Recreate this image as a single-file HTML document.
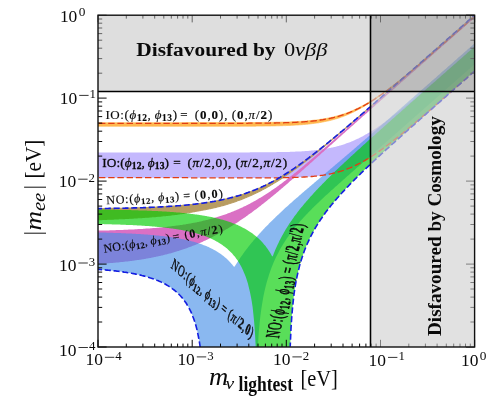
<!DOCTYPE html>
<html><head><meta charset="utf-8"><title>|m_ee| vs lightest neutrino mass</title>
<style>
html,body{margin:0;padding:0;background:#fff;}
body{width:498px;height:401px;overflow:hidden;position:relative;font-family:"Liberation Serif",serif;}
svg{will-change:transform;}
svg text{font-family:"Liberation Serif",serif;fill:#0a0a0a;}
.i{font-style:italic}.b{font-weight:bold}
</style></head><body>
<svg width="498" height="401" viewBox="0 0 498 401" style="position:absolute;left:0;top:0">
<defs><clipPath id="c"><rect x="98.0" y="15.2" width="376.6" height="331.8"/></clipPath></defs>
<rect width="498" height="401" fill="#fff"/>
<g clip-path="url(#c)">
<path d="M98.0,152.4L98.8,152.4L99.6,152.4L100.4,152.4L101.1,152.4L101.9,152.4L102.7,152.4L103.5,152.4L104.3,152.4L105.1,152.4L105.8,152.4L106.6,152.4L107.4,152.4L108.2,152.4L109.0,152.4L109.8,152.4L110.6,152.4L111.3,152.4L112.1,152.4L112.9,152.4L113.7,152.4L114.5,152.4L115.3,152.4L116.0,152.4L116.8,152.4L117.6,152.4L118.4,152.4L119.2,152.4L120.0,152.4L120.8,152.4L121.5,152.4L122.3,152.4L123.1,152.4L123.9,152.4L124.7,152.4L125.5,152.4L126.2,152.4L127.0,152.4L127.8,152.4L128.6,152.4L129.4,152.4L130.2,152.4L131.0,152.4L131.7,152.4L132.5,152.4L133.3,152.4L134.1,152.4L134.9,152.4L135.7,152.4L136.4,152.4L137.2,152.4L138.0,152.4L138.8,152.4L139.6,152.4L140.4,152.4L141.2,152.4L141.9,152.4L142.7,152.4L143.5,152.4L144.3,152.4L145.1,152.4L145.9,152.4L146.6,152.4L147.4,152.4L148.2,152.4L149.0,152.4L149.8,152.4L150.6,152.4L151.4,152.4L152.1,152.4L152.9,152.4L153.7,152.4L154.5,152.4L155.3,152.4L156.1,152.4L156.8,152.4L157.6,152.4L158.4,152.4L159.2,152.4L160.0,152.4L160.8,152.4L161.6,152.4L162.3,152.4L163.1,152.4L163.9,152.4L164.7,152.4L165.5,152.4L166.3,152.4L167.0,152.4L167.8,152.4L168.6,152.4L169.4,152.4L170.2,152.4L171.0,152.4L171.8,152.4L172.5,152.4L173.3,152.4L174.1,152.4L174.9,152.4L175.7,152.4L176.5,152.4L177.2,152.4L178.0,152.4L178.8,152.4L179.6,152.4L180.4,152.4L181.2,152.4L182.0,152.4L182.7,152.4L183.5,152.4L184.3,152.4L185.1,152.4L185.9,152.4L186.7,152.4L187.4,152.4L188.2,152.4L189.0,152.4L189.8,152.4L190.6,152.4L191.4,152.4L192.2,152.4L192.9,152.4L193.7,152.4L194.5,152.4L195.3,152.4L196.1,152.4L196.9,152.4L197.6,152.4L198.4,152.4L199.2,152.4L200.0,152.4L200.8,152.4L201.6,152.4L202.3,152.4L203.1,152.4L203.9,152.4L204.7,152.4L205.5,152.4L206.3,152.4L207.1,152.4L207.8,152.4L208.6,152.4L209.4,152.4L210.2,152.4L211.0,152.4L211.8,152.4L212.5,152.4L213.3,152.4L214.1,152.4L214.9,152.4L215.7,152.4L216.5,152.4L217.3,152.4L218.0,152.4L218.8,152.4L219.6,152.4L220.4,152.4L221.2,152.4L222.0,152.4L222.7,152.4L223.5,152.4L224.3,152.4L225.1,152.4L225.9,152.4L226.7,152.4L227.5,152.4L228.2,152.4L229.0,152.4L229.8,152.4L230.6,152.4L231.4,152.4L232.2,152.4L232.9,152.4L233.7,152.4L234.5,152.4L235.3,152.4L236.1,152.4L236.9,152.4L237.7,152.4L238.4,152.4L239.2,152.4L240.0,152.4L240.8,152.4L241.6,152.4L242.4,152.4L243.1,152.4L243.9,152.4L244.7,152.4L245.5,152.4L246.3,152.4L247.1,152.4L247.9,152.4L248.6,152.4L249.4,152.4L250.2,152.3L251.0,152.3L251.8,152.3L252.6,152.3L253.3,152.3L254.1,152.3L254.9,152.3L255.7,152.3L256.5,152.3L257.3,152.3L258.1,152.3L258.8,152.3L259.6,152.3L260.4,152.3L261.2,152.3L262.0,152.3L262.8,152.3L263.5,152.3L264.3,152.3L265.1,152.3L265.9,152.3L266.7,152.3L267.5,152.3L268.3,152.2L269.0,152.2L269.8,152.2L270.6,152.2L271.4,152.2L272.2,152.2L273.0,152.2L273.7,152.2L274.5,152.2L275.3,152.2L276.1,152.2L276.9,152.1L277.7,152.1L278.5,152.1L279.2,152.1L280.0,152.1L280.8,152.1L281.6,152.1L282.4,152.0L283.2,152.0L283.9,152.0L284.7,152.0L285.5,152.0L286.3,152.0L287.1,151.9L287.9,151.9L288.7,151.9L289.4,151.9L290.2,151.8L291.0,151.8L291.8,151.8L292.6,151.8L293.4,151.7L294.1,151.7L294.9,151.7L295.7,151.6L296.5,151.6L297.3,151.6L298.1,151.5L298.9,151.5L299.6,151.5L300.4,151.4L301.2,151.4L302.0,151.3L302.8,151.3L303.6,151.2L304.3,151.2L305.1,151.1L305.9,151.1L306.7,151.0L307.5,151.0L308.3,150.9L309.1,150.8L309.8,150.8L310.6,150.7L311.4,150.6L312.2,150.6L313.0,150.5L313.8,150.4L314.5,150.3L315.3,150.2L316.1,150.2L316.9,150.1L317.7,150.0L318.5,149.9L319.3,149.8L320.0,149.7L320.8,149.6L321.6,149.4L322.4,149.3L323.2,149.2L324.0,149.1L324.7,149.0L325.5,148.8L326.3,148.7L327.1,148.6L327.9,148.4L328.7,148.3L329.5,148.1L330.2,147.9L331.0,147.8L331.8,147.6L332.6,147.4L333.4,147.3L334.2,147.1L334.9,146.9L335.7,146.7L336.5,146.5L337.3,146.3L338.1,146.1L338.9,145.9L339.7,145.6L340.4,145.4L341.2,145.2L342.0,144.9L342.8,144.7L343.6,144.4L344.4,144.2L345.1,143.9L345.9,143.6L346.7,143.3L347.5,143.1L348.3,142.8L349.1,142.5L349.9,142.2L350.6,141.9L351.4,141.5L352.2,141.2L353.0,140.9L353.8,140.5L354.6,140.2L355.3,139.8L356.1,139.5L356.9,139.1L357.7,138.7L358.5,138.4L359.3,138.0L360.1,137.6L360.8,137.2L361.6,136.8L362.4,136.4L363.2,135.9L364.0,135.5L364.8,135.1L365.5,134.6L366.3,134.2L367.1,133.7L367.9,133.3L368.7,132.8L369.5,132.4L370.3,131.9L371.0,131.4L371.8,130.9L372.6,130.4L373.4,129.9L374.2,129.4L375.0,128.9L375.7,128.4L376.5,127.9L377.3,127.4L378.1,126.8L378.9,126.3L379.7,125.8L380.5,125.2L381.2,124.7L382.0,124.1L382.8,123.6L383.6,123.0L384.4,122.5L385.2,121.9L385.9,121.3L386.7,120.7L387.5,120.2L388.3,119.6L389.1,119.0L389.9,118.4L390.6,117.8L391.4,117.2L392.2,116.6L393.0,116.0L393.8,115.4L394.6,114.8L395.4,114.2L396.1,113.6L396.9,113.0L397.7,112.4L398.5,111.7L399.3,111.1L400.1,110.5L400.8,109.9L401.6,109.2L402.4,108.6L403.2,108.0L404.0,107.3L404.8,106.7L405.6,106.1L406.3,105.4L407.1,104.8L407.9,104.1L408.7,103.5L409.5,102.8L410.3,102.2L411.0,101.5L411.8,100.9L412.6,100.2L413.4,99.6L414.2,98.9L415.0,98.3L415.8,97.6L416.5,96.9L417.3,96.3L418.1,95.6L418.9,95.0L419.7,94.3L420.5,93.6L421.2,93.0L422.0,92.3L422.8,91.6L423.6,91.0L424.4,90.3L425.2,89.6L426.0,88.9L426.7,88.3L427.5,87.6L428.3,86.9L429.1,86.2L429.9,85.6L430.7,84.9L431.4,84.2L432.2,83.5L433.0,82.9L433.8,82.2L434.6,81.5L435.4,80.8L436.2,80.2L436.9,79.5L437.7,78.8L438.5,78.1L439.3,77.4L440.1,76.8L440.9,76.1L441.6,75.4L442.4,74.7L443.2,74.0L444.0,73.3L444.8,72.7L445.6,72.0L446.4,71.3L447.1,70.6L447.9,69.9L448.7,69.2L449.5,68.6L450.3,67.9L451.1,67.2L451.8,66.5L452.6,65.8L453.4,65.1L454.2,64.4L455.0,63.8L455.8,63.1L456.6,62.4L457.3,61.7L458.1,61.0L458.9,60.3L459.7,59.6L460.5,58.9L461.3,58.3L462.0,57.6L462.8,56.9L463.6,56.2L464.4,55.5L465.2,54.8L466.0,54.1L466.8,53.4L467.5,52.8L468.3,52.1L469.1,51.4L469.9,50.7L470.7,50.0L471.5,49.3L472.2,48.6L473.0,47.9L473.8,47.2L474.6,46.6L474.6,71.1L473.8,71.8L473.0,72.5L472.2,73.2L471.5,73.9L470.7,74.6L469.9,75.3L469.1,76.0L468.3,76.7L467.5,77.3L466.8,78.0L466.0,78.7L465.2,79.4L464.4,80.1L463.6,80.8L462.8,81.5L462.0,82.2L461.3,82.8L460.5,83.5L459.7,84.2L458.9,84.9L458.1,85.6L457.3,86.3L456.6,87.0L455.8,87.7L455.0,88.4L454.2,89.0L453.4,89.7L452.6,90.4L451.8,91.1L451.1,91.8L450.3,92.5L449.5,93.2L448.7,93.8L447.9,94.5L447.1,95.2L446.4,95.9L445.6,96.6L444.8,97.3L444.0,98.0L443.2,98.6L442.4,99.3L441.6,100.0L440.9,100.7L440.1,101.4L439.3,102.1L438.5,102.7L437.7,103.4L436.9,104.1L436.2,104.8L435.4,105.5L434.6,106.1L433.8,106.8L433.0,107.5L432.2,108.2L431.4,108.9L430.7,109.5L429.9,110.2L429.1,110.9L428.3,111.6L427.5,112.2L426.7,112.9L426.0,113.6L425.2,114.3L424.4,114.9L423.6,115.6L422.8,116.3L422.0,117.0L421.2,117.6L420.5,118.3L419.7,119.0L418.9,119.6L418.1,120.3L417.3,121.0L416.5,121.6L415.8,122.3L415.0,123.0L414.2,123.6L413.4,124.3L412.6,124.9L411.8,125.6L411.0,126.3L410.3,126.9L409.5,127.6L408.7,128.2L407.9,128.9L407.1,129.5L406.3,130.2L405.6,130.8L404.8,131.5L404.0,132.1L403.2,132.8L402.4,133.4L401.6,134.0L400.8,134.7L400.1,135.3L399.3,136.0L398.5,136.6L397.7,137.2L396.9,137.8L396.1,138.5L395.4,139.1L394.6,139.7L393.8,140.3L393.0,141.0L392.2,141.6L391.4,142.2L390.6,142.8L389.9,143.4L389.1,144.0L388.3,144.6L387.5,145.2L386.7,145.8L385.9,146.4L385.2,146.9L384.4,147.5L383.6,148.1L382.8,148.7L382.0,149.3L381.2,149.8L380.5,150.4L379.7,150.9L378.9,151.5L378.1,152.0L377.3,152.6L376.5,153.1L375.7,153.7L375.0,154.2L374.2,154.7L373.4,155.3L372.6,155.8L371.8,156.3L371.0,156.8L370.3,157.3L369.5,157.8L368.7,158.2L367.9,158.7L367.1,159.2L366.3,159.6L365.5,160.1L364.8,160.6L364.0,161.0L363.2,161.4L362.4,161.9L361.6,162.3L360.8,162.7L360.1,163.1L359.3,163.5L358.5,163.9L357.7,164.3L356.9,164.7L356.1,165.1L355.3,165.5L354.6,165.8L353.8,166.2L353.0,166.6L352.2,166.9L351.4,167.3L350.6,167.6L349.9,167.9L349.1,168.2L348.3,168.5L347.5,168.8L346.7,169.1L345.9,169.4L345.1,169.7L344.4,170.0L343.6,170.3L342.8,170.5L342.0,170.8L341.2,171.1L340.4,171.3L339.7,171.5L338.9,171.8L338.1,172.0L337.3,172.2L336.5,172.4L335.7,172.6L334.9,172.8L334.2,173.0L333.4,173.2L332.6,173.4L331.8,173.6L331.0,173.8L330.2,173.9L329.5,174.1L328.7,174.2L327.9,174.4L327.1,174.5L326.3,174.7L325.5,174.8L324.7,174.9L324.0,175.1L323.2,175.2L322.4,175.3L321.6,175.4L320.8,175.5L320.0,175.6L319.3,175.7L318.5,175.8L317.7,175.9L316.9,176.0L316.1,176.1L315.3,176.2L314.5,176.2L313.8,176.3L313.0,176.4L312.2,176.5L311.4,176.5L310.6,176.6L309.8,176.7L309.1,176.7L308.3,176.8L307.5,176.8L306.7,176.9L305.9,176.9L305.1,177.0L304.3,177.0L303.6,177.0L302.8,177.1L302.0,177.1L301.2,177.1L300.4,177.2L299.6,177.2L298.9,177.2L298.1,177.3L297.3,177.3L296.5,177.3L295.7,177.4L294.9,177.4L294.1,177.4L293.4,177.5L292.6,177.5L291.8,177.5L291.0,177.5L290.2,177.6L289.4,177.6L288.7,177.6L287.9,177.6L287.1,177.6L286.3,177.7L285.5,177.7L284.7,177.7L283.9,177.7L283.2,177.7L282.4,177.7L281.6,177.7L280.8,177.8L280.0,177.8L279.2,177.8L278.5,177.8L277.7,177.8L276.9,177.8L276.1,177.8L275.3,177.8L274.5,177.8L273.7,177.8L273.0,177.8L272.2,177.8L271.4,177.8L270.6,177.9L269.8,177.9L269.0,177.9L268.3,177.9L267.5,177.9L266.7,177.9L265.9,177.9L265.1,177.9L264.3,177.9L263.5,177.9L262.8,177.9L262.0,177.9L261.2,177.9L260.4,177.9L259.6,177.9L258.8,177.9L258.1,177.9L257.3,177.9L256.5,177.9L255.7,177.9L254.9,177.9L254.1,177.9L253.3,177.9L252.6,177.9L251.8,177.9L251.0,177.9L250.2,177.9L249.4,177.9L248.6,177.9L247.9,177.9L247.1,177.9L246.3,177.9L245.5,177.9L244.7,177.9L243.9,177.9L243.1,177.9L242.4,177.9L241.6,177.9L240.8,177.9L240.0,177.9L239.2,177.9L238.4,177.9L237.7,177.9L236.9,177.9L236.1,177.9L235.3,177.9L234.5,177.8L233.7,177.8L232.9,177.8L232.2,177.8L231.4,177.8L230.6,177.8L229.8,177.8L229.0,177.8L228.2,177.8L227.5,177.8L226.7,177.8L225.9,177.8L225.1,177.8L224.3,177.8L223.5,177.8L222.7,177.8L222.0,177.8L221.2,177.8L220.4,177.8L219.6,177.8L218.8,177.8L218.0,177.8L217.3,177.8L216.5,177.8L215.7,177.8L214.9,177.8L214.1,177.8L213.3,177.8L212.5,177.8L211.8,177.8L211.0,177.8L210.2,177.8L209.4,177.8L208.6,177.8L207.8,177.8L207.1,177.8L206.3,177.8L205.5,177.8L204.7,177.8L203.9,177.8L203.1,177.8L202.3,177.8L201.6,177.8L200.8,177.8L200.0,177.8L199.2,177.8L198.4,177.8L197.6,177.8L196.9,177.8L196.1,177.8L195.3,177.8L194.5,177.8L193.7,177.8L192.9,177.8L192.2,177.8L191.4,177.8L190.6,177.8L189.8,177.8L189.0,177.8L188.2,177.8L187.4,177.7L186.7,177.7L185.9,177.7L185.1,177.7L184.3,177.7L183.5,177.7L182.7,177.7L182.0,177.7L181.2,177.7L180.4,177.7L179.6,177.7L178.8,177.7L178.0,177.7L177.2,177.7L176.5,177.7L175.7,177.7L174.9,177.7L174.1,177.7L173.3,177.7L172.5,177.7L171.8,177.7L171.0,177.7L170.2,177.7L169.4,177.7L168.6,177.7L167.8,177.7L167.0,177.7L166.3,177.7L165.5,177.7L164.7,177.7L163.9,177.7L163.1,177.7L162.3,177.7L161.6,177.7L160.8,177.7L160.0,177.7L159.2,177.7L158.4,177.7L157.6,177.7L156.8,177.7L156.1,177.7L155.3,177.7L154.5,177.7L153.7,177.7L152.9,177.7L152.1,177.7L151.4,177.7L150.6,177.7L149.8,177.7L149.0,177.7L148.2,177.7L147.4,177.7L146.6,177.7L145.9,177.7L145.1,177.7L144.3,177.7L143.5,177.7L142.7,177.7L141.9,177.7L141.2,177.7L140.4,177.7L139.6,177.7L138.8,177.7L138.0,177.7L137.2,177.7L136.4,177.7L135.7,177.7L134.9,177.7L134.1,177.7L133.3,177.7L132.5,177.7L131.7,177.7L131.0,177.7L130.2,177.7L129.4,177.7L128.6,177.7L127.8,177.7L127.0,177.7L126.2,177.7L125.5,177.7L124.7,177.7L123.9,177.7L123.1,177.7L122.3,177.7L121.5,177.7L120.8,177.7L120.0,177.7L119.2,177.7L118.4,177.7L117.6,177.7L116.8,177.7L116.0,177.7L115.3,177.7L114.5,177.7L113.7,177.7L112.9,177.7L112.1,177.7L111.3,177.7L110.6,177.7L109.8,177.7L109.0,177.7L108.2,177.7L107.4,177.7L106.6,177.7L105.8,177.7L105.1,177.7L104.3,177.7L103.5,177.7L102.7,177.7L101.9,177.7L101.1,177.7L100.4,177.7L99.6,177.7L98.8,177.7L98.0,177.7Z" fill="#c4b8fd"/>
<path d="M98.0,122.7L98.8,122.7L99.6,122.7L100.4,122.7L101.1,122.7L101.9,122.7L102.7,122.7L103.5,122.7L104.3,122.7L105.1,122.7L105.8,122.7L106.6,122.7L107.4,122.7L108.2,122.7L109.0,122.7L109.8,122.7L110.6,122.7L111.3,122.7L112.1,122.7L112.9,122.7L113.7,122.7L114.5,122.7L115.3,122.7L116.0,122.7L116.8,122.7L117.6,122.7L118.4,122.7L119.2,122.7L120.0,122.7L120.8,122.7L121.5,122.7L122.3,122.7L123.1,122.7L123.9,122.7L124.7,122.7L125.5,122.7L126.2,122.7L127.0,122.7L127.8,122.7L128.6,122.7L129.4,122.7L130.2,122.7L131.0,122.7L131.7,122.7L132.5,122.7L133.3,122.7L134.1,122.7L134.9,122.7L135.7,122.7L136.4,122.7L137.2,122.7L138.0,122.7L138.8,122.7L139.6,122.7L140.4,122.7L141.2,122.7L141.9,122.7L142.7,122.7L143.5,122.7L144.3,122.7L145.1,122.7L145.9,122.7L146.6,122.7L147.4,122.7L148.2,122.7L149.0,122.7L149.8,122.7L150.6,122.7L151.4,122.7L152.1,122.7L152.9,122.7L153.7,122.7L154.5,122.7L155.3,122.7L156.1,122.7L156.8,122.7L157.6,122.7L158.4,122.7L159.2,122.7L160.0,122.7L160.8,122.7L161.6,122.7L162.3,122.7L163.1,122.7L163.9,122.7L164.7,122.7L165.5,122.7L166.3,122.7L167.0,122.7L167.8,122.7L168.6,122.7L169.4,122.7L170.2,122.7L171.0,122.7L171.8,122.7L172.5,122.7L173.3,122.7L174.1,122.7L174.9,122.7L175.7,122.7L176.5,122.7L177.2,122.7L178.0,122.7L178.8,122.7L179.6,122.7L180.4,122.7L181.2,122.7L182.0,122.7L182.7,122.7L183.5,122.7L184.3,122.7L185.1,122.7L185.9,122.7L186.7,122.6L187.4,122.6L188.2,122.6L189.0,122.6L189.8,122.6L190.6,122.6L191.4,122.6L192.2,122.6L192.9,122.6L193.7,122.6L194.5,122.6L195.3,122.6L196.1,122.6L196.9,122.6L197.6,122.6L198.4,122.6L199.2,122.6L200.0,122.6L200.8,122.6L201.6,122.6L202.3,122.6L203.1,122.6L203.9,122.6L204.7,122.6L205.5,122.6L206.3,122.6L207.1,122.6L207.8,122.6L208.6,122.6L209.4,122.6L210.2,122.6L211.0,122.6L211.8,122.6L212.5,122.6L213.3,122.6L214.1,122.6L214.9,122.6L215.7,122.6L216.5,122.6L217.3,122.6L218.0,122.6L218.8,122.6L219.6,122.6L220.4,122.6L221.2,122.6L222.0,122.6L222.7,122.6L223.5,122.6L224.3,122.6L225.1,122.6L225.9,122.6L226.7,122.6L227.5,122.6L228.2,122.6L229.0,122.6L229.8,122.6L230.6,122.6L231.4,122.6L232.2,122.6L232.9,122.6L233.7,122.6L234.5,122.6L235.3,122.6L236.1,122.6L236.9,122.6L237.7,122.6L238.4,122.6L239.2,122.6L240.0,122.6L240.8,122.6L241.6,122.6L242.4,122.6L243.1,122.6L243.9,122.6L244.7,122.6L245.5,122.6L246.3,122.6L247.1,122.6L247.9,122.6L248.6,122.5L249.4,122.5L250.2,122.5L251.0,122.5L251.8,122.5L252.6,122.5L253.3,122.5L254.1,122.5L254.9,122.5L255.7,122.5L256.5,122.5L257.3,122.5L258.1,122.5L258.8,122.5L259.6,122.5L260.4,122.5L261.2,122.5L262.0,122.5L262.8,122.4L263.5,122.4L264.3,122.4L265.1,122.4L265.9,122.4L266.7,122.4L267.5,122.4L268.3,122.4L269.0,122.4L269.8,122.4L270.6,122.3L271.4,122.3L272.2,122.3L273.0,122.3L273.7,122.3L274.5,122.3L275.3,122.3L276.1,122.2L276.9,122.2L277.7,122.2L278.5,122.2L279.2,122.2L280.0,122.2L280.8,122.1L281.6,122.1L282.4,122.1L283.2,122.1L283.9,122.1L284.7,122.0L285.5,122.0L286.3,122.0L287.1,122.0L287.9,121.9L288.7,121.9L289.4,121.9L290.2,121.9L291.0,121.8L291.8,121.8L292.6,121.8L293.4,121.7L294.1,121.7L294.9,121.7L295.7,121.6L296.5,121.6L297.3,121.5L298.1,121.5L298.9,121.4L299.6,121.4L300.4,121.4L301.2,121.3L302.0,121.3L302.8,121.2L303.6,121.1L304.3,121.1L305.1,121.0L305.9,121.0L306.7,120.9L307.5,120.8L308.3,120.8L309.1,120.7L309.8,120.6L310.6,120.6L311.4,120.5L312.2,120.4L313.0,120.3L313.8,120.2L314.5,120.1L315.3,120.1L316.1,120.0L316.9,119.9L317.7,119.8L318.5,119.7L319.3,119.5L320.0,119.4L320.8,119.3L321.6,119.2L322.4,119.1L323.2,119.0L324.0,118.8L324.7,118.7L325.5,118.5L326.3,118.4L327.1,118.3L327.9,118.1L328.7,117.9L329.5,117.8L330.2,117.6L331.0,117.5L331.8,117.3L332.6,117.1L333.4,116.9L334.2,116.7L334.9,116.5L335.7,116.3L336.5,116.1L337.3,115.9L338.1,115.7L338.9,115.5L339.7,115.2L340.4,115.0L341.2,114.7L342.0,114.5L342.8,114.2L343.6,114.0L344.4,113.7L345.1,113.4L345.9,113.2L346.7,112.9L347.5,112.6L348.3,112.3L349.1,112.0L349.9,111.7L350.6,111.3L351.4,111.0L352.2,110.7L353.0,110.3L353.8,110.0L354.6,109.6L355.3,109.3L356.1,108.9L356.9,108.5L357.7,108.2L358.5,107.8L359.3,107.4L360.1,107.0L360.8,106.6L361.6,106.2L362.4,105.8L363.2,105.3L364.0,104.9L364.8,104.5L365.5,104.0L366.3,103.6L367.1,103.1L367.9,102.7L368.7,102.2L369.5,101.7L370.3,101.2L371.0,100.8L371.8,100.3L372.6,99.8L373.4,99.3L374.2,98.8L375.0,98.3L375.7,97.7L376.5,97.2L377.3,96.7L378.1,96.2L378.9,95.6L379.7,95.1L380.5,94.6L381.2,94.0L382.0,93.5L382.8,92.9L383.6,92.3L384.4,91.8L385.2,91.2L385.9,90.6L386.7,90.1L387.5,89.5L388.3,88.9L389.1,88.3L389.9,87.7L390.6,87.1L391.4,86.5L392.2,85.9L393.0,85.3L393.8,84.7L394.6,84.1L395.4,83.5L396.1,82.9L396.9,82.3L397.7,81.6L398.5,81.0L399.3,80.4L400.1,79.8L400.8,79.1L401.6,78.5L402.4,77.9L403.2,77.2L404.0,76.6L404.8,76.0L405.6,75.3L406.3,74.7L407.1,74.0L407.9,73.4L408.7,72.8L409.5,72.1L410.3,71.5L411.0,70.8L411.8,70.2L412.6,69.5L413.4,68.8L414.2,68.2L415.0,67.5L415.8,66.9L416.5,66.2L417.3,65.5L418.1,64.9L418.9,64.2L419.7,63.6L420.5,62.9L421.2,62.2L422.0,61.6L422.8,60.9L423.6,60.2L424.4,59.5L425.2,58.9L426.0,58.2L426.7,57.5L427.5,56.9L428.3,56.2L429.1,55.5L429.9,54.8L430.7,54.2L431.4,53.5L432.2,52.8L433.0,52.1L433.8,51.5L434.6,50.8L435.4,50.1L436.2,49.4L436.9,48.7L437.7,48.1L438.5,47.4L439.3,46.7L440.1,46.0L440.9,45.3L441.6,44.6L442.4,44.0L443.2,43.3L444.0,42.6L444.8,41.9L445.6,41.2L446.4,40.6L447.1,39.9L447.9,39.2L448.7,38.5L449.5,37.8L450.3,37.1L451.1,36.4L451.8,35.8L452.6,35.1L453.4,34.4L454.2,33.7L455.0,33.0L455.8,32.3L456.6,31.6L457.3,31.0L458.1,30.3L458.9,29.6L459.7,28.9L460.5,28.2L461.3,27.5L462.0,26.8L462.8,26.1L463.6,25.5L464.4,24.8L465.2,24.1L466.0,23.4L466.8,22.7L467.5,22.0L468.3,21.3L469.1,20.6L469.9,19.9L470.7,19.3L471.5,18.6L472.2,17.9L473.0,17.2L473.8,16.5L474.6,15.8L474.6,16.1L473.8,16.8L473.0,17.5L472.2,18.1L471.5,18.8L470.7,19.5L469.9,20.2L469.1,20.9L468.3,21.6L467.5,22.3L466.8,23.0L466.0,23.7L465.2,24.3L464.4,25.0L463.6,25.7L462.8,26.4L462.0,27.1L461.3,27.8L460.5,28.5L459.7,29.2L458.9,29.9L458.1,30.5L457.3,31.2L456.6,31.9L455.8,32.6L455.0,33.3L454.2,34.0L453.4,34.7L452.6,35.4L451.8,36.0L451.1,36.7L450.3,37.4L449.5,38.1L448.7,38.8L447.9,39.5L447.1,40.2L446.4,40.8L445.6,41.5L444.8,42.2L444.0,42.9L443.2,43.6L442.4,44.3L441.6,44.9L440.9,45.6L440.1,46.3L439.3,47.0L438.5,47.7L437.7,48.4L436.9,49.0L436.2,49.7L435.4,50.4L434.6,51.1L433.8,51.8L433.0,52.5L432.2,53.1L431.4,53.8L430.7,54.5L429.9,55.2L429.1,55.8L428.3,56.5L427.5,57.2L426.7,57.9L426.0,58.5L425.2,59.2L424.4,59.9L423.6,60.6L422.8,61.2L422.0,61.9L421.2,62.6L420.5,63.3L419.7,63.9L418.9,64.6L418.1,65.3L417.3,65.9L416.5,66.6L415.8,67.3L415.0,67.9L414.2,68.6L413.4,69.3L412.6,69.9L411.8,70.6L411.0,71.2L410.3,71.9L409.5,72.6L408.7,73.2L407.9,73.9L407.1,74.5L406.3,75.2L405.6,75.8L404.8,76.5L404.0,77.1L403.2,77.8L402.4,78.4L401.6,79.0L400.8,79.7L400.1,80.3L399.3,81.0L398.5,81.6L397.7,82.2L396.9,82.9L396.1,83.5L395.4,84.1L394.6,84.7L393.8,85.4L393.0,86.0L392.2,86.6L391.4,87.2L390.6,87.8L389.9,88.4L389.1,89.0L388.3,89.6L387.5,90.2L386.7,90.8L385.9,91.4L385.2,92.0L384.4,92.6L383.6,93.2L382.8,93.8L382.0,94.3L381.2,94.9L380.5,95.5L379.7,96.0L378.9,96.6L378.1,97.2L377.3,97.7L376.5,98.3L375.7,98.8L375.0,99.3L374.2,99.9L373.4,100.4L372.6,100.9L371.8,101.5L371.0,102.0L370.3,102.5L369.5,103.0L368.7,103.5L367.9,104.0L367.1,104.5L366.3,105.0L365.5,105.4L364.8,105.9L364.0,106.4L363.2,106.8L362.4,107.3L361.6,107.7L360.8,108.2L360.1,108.6L359.3,109.0L358.5,109.5L357.7,109.9L356.9,110.3L356.1,110.7L355.3,111.1L354.6,111.5L353.8,111.9L353.0,112.2L352.2,112.6L351.4,113.0L350.6,113.3L349.9,113.7L349.1,114.0L348.3,114.4L347.5,114.7L346.7,115.0L345.9,115.4L345.1,115.7L344.4,116.0L343.6,116.3L342.8,116.6L342.0,116.9L341.2,117.1L340.4,117.4L339.7,117.7L338.9,117.9L338.1,118.2L337.3,118.4L336.5,118.7L335.7,118.9L334.9,119.1L334.2,119.4L333.4,119.6L332.6,119.8L331.8,120.0L331.0,120.2L330.2,120.4L329.5,120.6L328.7,120.8L327.9,121.0L327.1,121.1L326.3,121.3L325.5,121.5L324.7,121.6L324.0,121.8L323.2,121.9L322.4,122.1L321.6,122.2L320.8,122.4L320.0,122.5L319.3,122.6L318.5,122.8L317.7,122.9L316.9,123.0L316.1,123.1L315.3,123.2L314.5,123.3L313.8,123.4L313.0,123.5L312.2,123.6L311.4,123.7L310.6,123.8L309.8,123.9L309.1,124.0L308.3,124.1L307.5,124.2L306.7,124.2L305.9,124.3L305.1,124.4L304.3,124.5L303.6,124.5L302.8,124.6L302.0,124.7L301.2,124.7L300.4,124.8L299.6,124.8L298.9,124.9L298.1,124.9L297.3,125.0L296.5,125.0L295.7,125.1L294.9,125.1L294.1,125.2L293.4,125.2L292.6,125.3L291.8,125.3L291.0,125.3L290.2,125.4L289.4,125.4L288.7,125.4L287.9,125.5L287.1,125.5L286.3,125.5L285.5,125.6L284.7,125.6L283.9,125.6L283.2,125.6L282.4,125.7L281.6,125.7L280.8,125.7L280.0,125.7L279.2,125.8L278.5,125.8L277.7,125.8L276.9,125.8L276.1,125.8L275.3,125.9L274.5,125.9L273.7,125.9L273.0,125.9L272.2,125.9L271.4,125.9L270.6,126.0L269.8,126.0L269.0,126.0L268.3,126.0L267.5,126.0L266.7,126.0L265.9,126.0L265.1,126.0L264.3,126.1L263.5,126.1L262.8,126.1L262.0,126.1L261.2,126.1L260.4,126.1L259.6,126.1L258.8,126.1L258.1,126.1L257.3,126.1L256.5,126.1L255.7,126.2L254.9,126.2L254.1,126.2L253.3,126.2L252.6,126.2L251.8,126.2L251.0,126.2L250.2,126.2L249.4,126.2L248.6,126.2L247.9,126.2L247.1,126.2L246.3,126.2L245.5,126.2L244.7,126.2L243.9,126.2L243.1,126.2L242.4,126.2L241.6,126.2L240.8,126.2L240.0,126.3L239.2,126.3L238.4,126.3L237.7,126.3L236.9,126.3L236.1,126.3L235.3,126.3L234.5,126.3L233.7,126.3L232.9,126.3L232.2,126.3L231.4,126.3L230.6,126.3L229.8,126.3L229.0,126.3L228.2,126.3L227.5,126.3L226.7,126.3L225.9,126.3L225.1,126.3L224.3,126.3L223.5,126.3L222.7,126.3L222.0,126.3L221.2,126.3L220.4,126.3L219.6,126.3L218.8,126.3L218.0,126.3L217.3,126.3L216.5,126.3L215.7,126.3L214.9,126.3L214.1,126.3L213.3,126.3L212.5,126.3L211.8,126.3L211.0,126.3L210.2,126.3L209.4,126.3L208.6,126.3L207.8,126.3L207.1,126.3L206.3,126.3L205.5,126.3L204.7,126.3L203.9,126.3L203.1,126.3L202.3,126.3L201.6,126.3L200.8,126.3L200.0,126.3L199.2,126.3L198.4,126.3L197.6,126.3L196.9,126.3L196.1,126.3L195.3,126.3L194.5,126.3L193.7,126.3L192.9,126.3L192.2,126.3L191.4,126.3L190.6,126.3L189.8,126.3L189.0,126.3L188.2,126.3L187.4,126.3L186.7,126.3L185.9,126.3L185.1,126.3L184.3,126.3L183.5,126.3L182.7,126.3L182.0,126.3L181.2,126.3L180.4,126.3L179.6,126.3L178.8,126.3L178.0,126.3L177.2,126.3L176.5,126.3L175.7,126.3L174.9,126.3L174.1,126.3L173.3,126.3L172.5,126.3L171.8,126.3L171.0,126.3L170.2,126.3L169.4,126.3L168.6,126.3L167.8,126.3L167.0,126.3L166.3,126.3L165.5,126.3L164.7,126.3L163.9,126.3L163.1,126.3L162.3,126.3L161.6,126.3L160.8,126.3L160.0,126.3L159.2,126.3L158.4,126.3L157.6,126.3L156.8,126.3L156.1,126.3L155.3,126.3L154.5,126.3L153.7,126.3L152.9,126.3L152.1,126.3L151.4,126.3L150.6,126.3L149.8,126.3L149.0,126.3L148.2,126.3L147.4,126.3L146.6,126.3L145.9,126.3L145.1,126.3L144.3,126.3L143.5,126.3L142.7,126.3L141.9,126.3L141.2,126.3L140.4,126.3L139.6,126.3L138.8,126.3L138.0,126.3L137.2,126.3L136.4,126.3L135.7,126.3L134.9,126.3L134.1,126.3L133.3,126.3L132.5,126.3L131.7,126.3L131.0,126.3L130.2,126.3L129.4,126.3L128.6,126.3L127.8,126.3L127.0,126.3L126.2,126.3L125.5,126.3L124.7,126.3L123.9,126.3L123.1,126.3L122.3,126.3L121.5,126.3L120.8,126.3L120.0,126.3L119.2,126.3L118.4,126.3L117.6,126.3L116.8,126.3L116.0,126.3L115.3,126.3L114.5,126.3L113.7,126.3L112.9,126.3L112.1,126.3L111.3,126.3L110.6,126.3L109.8,126.3L109.0,126.3L108.2,126.3L107.4,126.3L106.6,126.3L105.8,126.3L105.1,126.3L104.3,126.3L103.5,126.3L102.7,126.3L101.9,126.3L101.1,126.3L100.4,126.3L99.6,126.3L98.8,126.3L98.0,126.3Z" fill="#ffb850" stroke="#ffb850" stroke-width="0.7"/>
<path d="M98.0,208.6L98.8,208.6L99.6,208.6L100.4,208.6L101.1,208.6L101.9,208.5L102.7,208.5L103.5,208.5L104.3,208.5L105.1,208.5L105.8,208.5L106.6,208.5L107.4,208.5L108.2,208.5L109.0,208.4L109.8,208.4L110.6,208.4L111.3,208.4L112.1,208.4L112.9,208.4L113.7,208.4L114.5,208.4L115.3,208.3L116.0,208.3L116.8,208.3L117.6,208.3L118.4,208.3L119.2,208.3L120.0,208.3L120.8,208.2L121.5,208.2L122.3,208.2L123.1,208.2L123.9,208.2L124.7,208.2L125.5,208.1L126.2,208.1L127.0,208.1L127.8,208.1L128.6,208.1L129.4,208.1L130.2,208.0L131.0,208.0L131.7,208.0L132.5,208.0L133.3,207.9L134.1,207.9L134.9,207.9L135.7,207.9L136.4,207.9L137.2,207.8L138.0,207.8L138.8,207.8L139.6,207.8L140.4,207.7L141.2,207.7L141.9,207.7L142.7,207.7L143.5,207.6L144.3,207.6L145.1,207.6L145.9,207.6L146.6,207.5L147.4,207.5L148.2,207.5L149.0,207.4L149.8,207.4L150.6,207.4L151.4,207.3L152.1,207.3L152.9,207.3L153.7,207.2L154.5,207.2L155.3,207.2L156.1,207.1L156.8,207.1L157.6,207.1L158.4,207.0L159.2,207.0L160.0,206.9L160.8,206.9L161.6,206.9L162.3,206.8L163.1,206.8L163.9,206.7L164.7,206.7L165.5,206.6L166.3,206.6L167.0,206.5L167.8,206.5L168.6,206.4L169.4,206.4L170.2,206.3L171.0,206.3L171.8,206.2L172.5,206.2L173.3,206.1L174.1,206.1L174.9,206.0L175.7,206.0L176.5,205.9L177.2,205.8L178.0,205.8L178.8,205.7L179.6,205.7L180.4,205.6L181.2,205.5L182.0,205.5L182.7,205.4L183.5,205.3L184.3,205.2L185.1,205.2L185.9,205.1L186.7,205.0L187.4,205.0L188.2,204.9L189.0,204.8L189.8,204.7L190.6,204.6L191.4,204.6L192.2,204.5L192.9,204.4L193.7,204.3L194.5,204.2L195.3,204.1L196.1,204.0L196.9,203.9L197.6,203.8L198.4,203.7L199.2,203.6L200.0,203.5L200.8,203.4L201.6,203.3L202.3,203.2L203.1,203.1L203.9,203.0L204.7,202.9L205.5,202.8L206.3,202.6L207.1,202.5L207.8,202.4L208.6,202.3L209.4,202.2L210.2,202.0L211.0,201.9L211.8,201.8L212.5,201.6L213.3,201.5L214.1,201.4L214.9,201.2L215.7,201.1L216.5,200.9L217.3,200.8L218.0,200.6L218.8,200.5L219.6,200.3L220.4,200.2L221.2,200.0L222.0,199.8L222.7,199.7L223.5,199.5L224.3,199.3L225.1,199.1L225.9,199.0L226.7,198.8L227.5,198.6L228.2,198.4L229.0,198.2L229.8,198.0L230.6,197.8L231.4,197.6L232.2,197.4L232.9,197.2L233.7,197.0L234.5,196.8L235.3,196.6L236.1,196.3L236.9,196.1L237.7,195.9L238.4,195.7L239.2,195.4L240.0,195.2L240.8,194.9L241.6,194.7L242.4,194.4L243.1,194.2L243.9,193.9L244.7,193.7L245.5,193.4L246.3,193.1L247.1,192.9L247.9,192.6L248.6,192.3L249.4,192.0L250.2,191.7L251.0,191.4L251.8,191.1L252.6,190.8L253.3,190.5L254.1,190.2L254.9,189.9L255.7,189.6L256.5,189.2L257.3,188.9L258.1,188.6L258.8,188.2L259.6,187.9L260.4,187.5L261.2,187.2L262.0,186.8L262.8,186.5L263.5,186.1L264.3,185.7L265.1,185.4L265.9,185.0L266.7,184.6L267.5,184.2L268.3,183.8L269.0,183.4L269.8,183.0L270.6,182.6L271.4,182.2L272.2,181.8L273.0,181.4L273.7,180.9L274.5,180.5L275.3,180.1L276.1,179.6L276.9,179.2L277.7,178.7L278.5,178.3L279.2,177.8L280.0,177.4L280.8,176.9L281.6,176.4L282.4,176.0L283.2,175.5L283.9,175.0L284.7,174.5L285.5,174.0L286.3,173.5L287.1,173.0L287.9,172.5L288.7,172.0L289.4,171.5L290.2,171.0L291.0,170.5L291.8,170.0L292.6,169.4L293.4,168.9L294.1,168.4L294.9,167.8L295.7,167.3L296.5,166.8L297.3,166.2L298.1,165.7L298.9,165.1L299.6,164.6L300.4,164.0L301.2,163.4L302.0,162.9L302.8,162.3L303.6,161.7L304.3,161.2L305.1,160.6L305.9,160.0L306.7,159.4L307.5,158.8L308.3,158.2L309.1,157.6L309.8,157.0L310.6,156.5L311.4,155.9L312.2,155.3L313.0,154.6L313.8,154.0L314.5,153.4L315.3,152.8L316.1,152.2L316.9,151.6L317.7,151.0L318.5,150.4L319.3,149.7L320.0,149.1L320.8,148.5L321.6,147.9L322.4,147.2L323.2,146.6L324.0,146.0L324.7,145.4L325.5,144.7L326.3,144.1L327.1,143.4L327.9,142.8L328.7,142.2L329.5,141.5L330.2,140.9L331.0,140.2L331.8,139.6L332.6,138.9L333.4,138.3L334.2,137.6L334.9,137.0L335.7,136.3L336.5,135.7L337.3,135.0L338.1,134.4L338.9,133.7L339.7,133.1L340.4,132.4L341.2,131.7L342.0,131.1L342.8,130.4L343.6,129.8L344.4,129.1L345.1,128.4L345.9,127.8L346.7,127.1L347.5,126.4L348.3,125.8L349.1,125.1L349.9,124.4L350.6,123.8L351.4,123.1L352.2,122.4L353.0,121.8L353.8,121.1L354.6,120.4L355.3,119.7L356.1,119.1L356.9,118.4L357.7,117.7L358.5,117.0L359.3,116.4L360.1,115.7L360.8,115.0L361.6,114.3L362.4,113.7L363.2,113.0L364.0,112.3L364.8,111.6L365.5,111.0L366.3,110.3L367.1,109.6L367.9,108.9L368.7,108.2L369.5,107.5L370.3,106.9L371.0,106.2L371.8,105.5L372.6,104.8L373.4,104.1L374.2,103.5L375.0,102.8L375.7,102.1L376.5,101.4L377.3,100.7L378.1,100.0L378.9,99.4L379.7,98.7L380.5,98.0L381.2,97.3L382.0,96.6L382.8,95.9L383.6,95.2L384.4,94.6L385.2,93.9L385.9,93.2L386.7,92.5L387.5,91.8L388.3,91.1L389.1,90.4L389.9,89.7L390.6,89.1L391.4,88.4L392.2,87.7L393.0,87.0L393.8,86.3L394.6,85.6L395.4,84.9L396.1,84.2L396.9,83.6L397.7,82.9L398.5,82.2L399.3,81.5L400.1,80.8L400.8,80.1L401.6,79.4L402.4,78.7L403.2,78.0L404.0,77.4L404.8,76.7L405.6,76.0L406.3,75.3L407.1,74.6L407.9,73.9L408.7,73.2L409.5,72.5L410.3,71.8L411.0,71.2L411.8,70.5L412.6,69.8L413.4,69.1L414.2,68.4L415.0,67.7L415.8,67.0L416.5,66.3L417.3,65.6L418.1,64.9L418.9,64.3L419.7,63.6L420.5,62.9L421.2,62.2L422.0,61.5L422.8,60.8L423.6,60.1L424.4,59.4L425.2,58.7L426.0,58.0L426.7,57.3L427.5,56.7L428.3,56.0L429.1,55.3L429.9,54.6L430.7,53.9L431.4,53.2L432.2,52.5L433.0,51.8L433.8,51.1L434.6,50.4L435.4,49.8L436.2,49.1L436.9,48.4L437.7,47.7L438.5,47.0L439.3,46.3L440.1,45.6L440.9,44.9L441.6,44.2L442.4,43.5L443.2,42.8L444.0,42.2L444.8,41.5L445.6,40.8L446.4,40.1L447.1,39.4L447.9,38.7L448.7,38.0L449.5,37.3L450.3,36.6L451.1,35.9L451.8,35.2L452.6,34.5L453.4,33.9L454.2,33.2L455.0,32.5L455.8,31.8L456.6,31.1L457.3,30.4L458.1,29.7L458.9,29.0L459.7,28.3L460.5,27.6L461.3,26.9L462.0,26.3L462.8,25.6L463.6,24.9L464.4,24.2L465.2,23.5L466.0,22.8L466.8,22.1L467.5,21.4L468.3,20.7L469.1,20.0L469.9,19.3L470.7,18.7L471.5,18.0L472.2,17.3L473.0,16.6L473.8,15.9L474.6,15.2L473.8,15.9L473.0,16.6L472.2,17.3L471.5,18.0L470.7,18.7L469.9,19.3L469.1,20.0L468.3,20.7L467.5,21.4L466.8,22.1L466.0,22.8L465.2,23.5L464.4,24.2L463.6,24.9L462.8,25.6L462.0,26.3L461.3,26.9L460.5,27.6L459.7,28.3L458.9,29.0L458.1,29.7L457.3,30.4L456.6,31.1L455.8,31.8L455.0,32.5L454.2,33.2L453.4,33.9L452.6,34.6L451.8,35.2L451.1,35.9L450.3,36.6L449.5,37.3L448.7,38.0L447.9,38.7L447.1,39.4L446.4,40.1L445.6,40.8L444.8,41.5L444.0,42.2L443.2,42.8L442.4,43.5L441.6,44.2L440.9,44.9L440.1,45.6L439.3,46.3L438.5,47.0L437.7,47.7L436.9,48.4L436.2,49.1L435.4,49.8L434.6,50.4L433.8,51.1L433.0,51.8L432.2,52.5L431.4,53.2L430.7,53.9L429.9,54.6L429.1,55.3L428.3,56.0L427.5,56.7L426.7,57.4L426.0,58.0L425.2,58.7L424.4,59.4L423.6,60.1L422.8,60.8L422.0,61.5L421.2,62.2L420.5,62.9L419.7,63.6L418.9,64.3L418.1,65.0L417.3,65.6L416.5,66.3L415.8,67.0L415.0,67.7L414.2,68.4L413.4,69.1L412.6,69.8L411.8,70.5L411.0,71.2L410.3,71.9L409.5,72.5L408.7,73.2L407.9,73.9L407.1,74.6L406.3,75.3L405.6,76.0L404.8,76.7L404.0,77.4L403.2,78.1L402.4,78.8L401.6,79.4L400.8,80.1L400.1,80.8L399.3,81.5L398.5,82.2L397.7,82.9L396.9,83.6L396.1,84.3L395.4,85.0L394.6,85.7L393.8,86.3L393.0,87.0L392.2,87.7L391.4,88.4L390.6,89.1L389.9,89.8L389.1,90.5L388.3,91.2L387.5,91.9L386.7,92.5L385.9,93.2L385.2,93.9L384.4,94.6L383.6,95.3L382.8,96.0L382.0,96.7L381.2,97.4L380.5,98.0L379.7,98.7L378.9,99.4L378.1,100.1L377.3,100.8L376.5,101.5L375.7,102.2L375.0,102.9L374.2,103.5L373.4,104.2L372.6,104.9L371.8,105.6L371.0,106.3L370.3,107.0L369.5,107.6L368.7,108.3L367.9,109.0L367.1,109.7L366.3,110.4L365.5,111.1L364.8,111.8L364.0,112.4L363.2,113.1L362.4,113.8L361.6,114.5L360.8,115.2L360.1,115.8L359.3,116.5L358.5,117.2L357.7,117.9L356.9,118.6L356.1,119.2L355.3,119.9L354.6,120.6L353.8,121.3L353.0,122.0L352.2,122.6L351.4,123.3L350.6,124.0L349.9,124.7L349.1,125.3L348.3,126.0L347.5,126.7L346.7,127.4L345.9,128.0L345.1,128.7L344.4,129.4L343.6,130.1L342.8,130.7L342.0,131.4L341.2,132.1L340.4,132.7L339.7,133.4L338.9,134.1L338.1,134.8L337.3,135.4L336.5,136.1L335.7,136.8L334.9,137.4L334.2,138.1L333.4,138.7L332.6,139.4L331.8,140.1L331.0,140.7L330.2,141.4L329.5,142.0L328.7,142.7L327.9,143.4L327.1,144.0L326.3,144.7L325.5,145.3L324.7,146.0L324.0,146.6L323.2,147.3L322.4,147.9L321.6,148.6L320.8,149.2L320.0,149.9L319.3,150.5L318.5,151.1L317.7,151.8L316.9,152.4L316.1,153.1L315.3,153.7L314.5,154.3L313.8,155.0L313.0,155.6L312.2,156.2L311.4,156.9L310.6,157.5L309.8,158.1L309.1,158.7L308.3,159.3L307.5,159.9L306.7,160.5L305.9,161.1L305.1,161.7L304.3,162.3L303.6,162.9L302.8,163.5L302.0,164.1L301.2,164.7L300.4,165.3L299.6,165.9L298.9,166.4L298.1,167.0L297.3,167.6L296.5,168.2L295.7,168.7L294.9,169.3L294.1,169.9L293.4,170.4L292.6,171.0L291.8,171.5L291.0,172.1L290.2,172.7L289.4,173.2L288.7,173.7L287.9,174.3L287.1,174.8L286.3,175.4L285.5,175.9L284.7,176.4L283.9,176.9L283.2,177.5L282.4,178.0L281.6,178.5L280.8,179.0L280.0,179.5L279.2,180.0L278.5,180.5L277.7,181.0L276.9,181.5L276.1,182.0L275.3,182.5L274.5,182.9L273.7,183.4L273.0,183.9L272.2,184.4L271.4,184.8L270.6,185.3L269.8,185.7L269.0,186.2L268.3,186.6L267.5,187.1L266.7,187.5L265.9,187.9L265.1,188.4L264.3,188.8L263.5,189.2L262.8,189.6L262.0,190.1L261.2,190.5L260.4,190.9L259.6,191.3L258.8,191.7L258.1,192.1L257.3,192.4L256.5,192.8L255.7,193.2L254.9,193.6L254.1,194.0L253.3,194.3L252.6,194.7L251.8,195.1L251.0,195.4L250.2,195.8L249.4,196.1L248.6,196.5L247.9,196.8L247.1,197.1L246.3,197.5L245.5,197.8L244.7,198.1L243.9,198.4L243.1,198.7L242.4,199.1L241.6,199.4L240.8,199.7L240.0,200.0L239.2,200.3L238.4,200.6L237.7,200.8L236.9,201.1L236.1,201.4L235.3,201.7L234.5,201.9L233.7,202.2L232.9,202.5L232.2,202.7L231.4,203.0L230.6,203.2L229.8,203.5L229.0,203.7L228.2,204.0L227.5,204.2L226.7,204.5L225.9,204.7L225.1,204.9L224.3,205.1L223.5,205.4L222.7,205.6L222.0,205.8L221.2,206.0L220.4,206.2L219.6,206.4L218.8,206.6L218.0,206.8L217.3,207.0L216.5,207.2L215.7,207.4L214.9,207.6L214.1,207.8L213.3,207.9L212.5,208.1L211.8,208.3L211.0,208.5L210.2,208.6L209.4,208.8L208.6,209.0L207.8,209.1L207.1,209.3L206.3,209.4L205.5,209.6L204.7,209.7L203.9,209.9L203.1,210.0L202.3,210.2L201.6,210.3L200.8,210.5L200.0,210.6L199.2,210.7L198.4,210.9L197.6,211.0L196.9,211.2L196.1,211.3L195.3,211.5L194.5,211.6L193.7,211.8L192.9,211.9L192.2,212.0L191.4,212.2L190.6,212.3L189.8,212.4L189.0,212.6L188.2,212.7L187.4,212.8L186.7,212.9L185.9,213.0L185.1,213.2L184.3,213.3L183.5,213.4L182.7,213.5L182.0,213.6L181.2,213.7L180.4,213.8L179.6,213.9L178.8,214.0L178.0,214.1L177.2,214.3L176.5,214.4L175.7,214.4L174.9,214.5L174.1,214.6L173.3,214.7L172.5,214.8L171.8,214.9L171.0,215.0L170.2,215.1L169.4,215.2L168.6,215.3L167.8,215.4L167.0,215.4L166.3,215.5L165.5,215.6L164.7,215.7L163.9,215.8L163.1,215.8L162.3,215.9L161.6,216.0L160.8,216.1L160.0,216.1L159.2,216.2L158.4,216.3L157.6,216.3L156.8,216.4L156.1,216.5L155.3,216.6L154.5,216.6L153.7,216.7L152.9,216.7L152.1,216.8L151.4,216.9L150.6,216.9L149.8,217.0L149.0,217.1L148.2,217.1L147.4,217.2L146.6,217.2L145.9,217.3L145.1,217.3L144.3,217.4L143.5,217.4L142.7,217.5L141.9,217.6L141.2,217.6L140.4,217.7L139.6,217.7L138.8,217.8L138.0,217.8L137.2,217.9L136.4,217.9L135.7,217.9L134.9,218.0L134.1,218.0L133.3,218.1L132.5,218.1L131.7,218.2L131.0,218.2L130.2,218.3L129.4,218.3L128.6,218.4L127.8,218.4L127.0,218.4L126.2,218.5L125.5,218.5L124.7,218.6L123.9,218.6L123.1,218.6L122.3,218.7L121.5,218.7L120.8,218.8L120.0,218.8L119.2,218.8L118.4,218.9L117.6,218.9L116.8,218.9L116.0,219.0L115.3,219.0L114.5,219.0L113.7,219.1L112.9,219.1L112.1,219.2L111.3,219.2L110.6,219.2L109.8,219.3L109.0,219.3L108.2,219.3L107.4,219.3L106.6,219.4L105.8,219.4L105.1,219.4L104.3,219.5L103.5,219.5L102.7,219.5L101.9,219.6L101.1,219.6L100.4,219.6L99.6,219.7L98.8,219.7L98.0,219.7Z" fill="#b89c62" stroke="#b89c62" stroke-width="1.1"/>
<path d="M98.0,230.7L98.8,230.6L99.6,230.6L100.4,230.6L101.1,230.6L101.9,230.6L102.7,230.5L103.5,230.5L104.3,230.5L105.1,230.5L105.8,230.5L106.6,230.4L107.4,230.4L108.2,230.4L109.0,230.4L109.8,230.3L110.6,230.3L111.3,230.3L112.1,230.3L112.9,230.2L113.7,230.2L114.5,230.2L115.3,230.2L116.0,230.1L116.8,230.1L117.6,230.1L118.4,230.0L119.2,230.0L120.0,230.0L120.8,230.0L121.5,229.9L122.3,229.9L123.1,229.9L123.9,229.8L124.7,229.8L125.5,229.8L126.2,229.7L127.0,229.7L127.8,229.7L128.6,229.6L129.4,229.6L130.2,229.6L131.0,229.5L131.7,229.5L132.5,229.4L133.3,229.4L134.1,229.4L134.9,229.3L135.7,229.3L136.4,229.2L137.2,229.2L138.0,229.1L138.8,229.1L139.6,229.0L140.4,229.0L141.2,229.0L141.9,228.9L142.7,228.9L143.5,228.8L144.3,228.8L145.1,228.7L145.9,228.6L146.6,228.6L147.4,228.5L148.2,228.5L149.0,228.4L149.8,228.4L150.6,228.3L151.4,228.2L152.1,228.2L152.9,228.1L153.7,228.1L154.5,228.0L155.3,227.9L156.1,227.9L156.8,227.8L157.6,227.7L158.4,227.7L159.2,227.6L160.0,227.5L160.8,227.4L161.6,227.4L162.3,227.3L163.1,227.2L163.9,227.1L164.7,227.0L165.5,227.0L166.3,226.9L167.0,226.8L167.8,226.7L168.6,226.6L169.4,226.5L170.2,226.4L171.0,226.3L171.8,226.2L172.5,226.1L173.3,226.1L174.1,226.0L174.9,225.8L175.7,225.7L176.5,225.6L177.2,225.5L178.0,225.4L178.8,225.3L179.6,225.2L180.4,225.1L181.2,225.0L182.0,224.9L182.7,224.7L183.5,224.6L184.3,224.5L185.1,224.4L185.9,224.2L186.7,224.1L187.4,224.0L188.2,223.8L189.0,223.7L189.8,223.6L190.6,223.4L191.4,223.3L192.2,223.1L192.9,223.0L193.7,222.8L194.5,222.7L195.3,222.5L196.1,222.4L196.9,222.2L197.6,222.0L198.4,221.9L199.2,221.7L200.0,221.5L200.8,221.4L201.6,221.2L202.3,221.0L203.1,220.8L203.9,220.6L204.7,220.5L205.5,220.3L206.3,220.1L207.1,219.9L207.8,219.7L208.6,219.5L209.4,219.3L210.2,219.1L211.0,218.8L211.8,218.6L212.5,218.4L213.3,218.2L214.1,218.0L214.9,217.7L215.7,217.5L216.5,217.3L217.3,217.0L218.0,216.8L218.8,216.5L219.6,216.3L220.4,216.0L221.2,215.8L222.0,215.5L222.7,215.3L223.5,215.0L224.3,214.7L225.1,214.4L225.9,214.2L226.7,213.9L227.5,213.6L228.2,213.3L229.0,213.0L229.8,212.7L230.6,212.4L231.4,212.1L232.2,211.8L232.9,211.5L233.7,211.2L234.5,210.8L235.3,210.5L236.1,210.2L236.9,209.8L237.7,209.5L238.4,209.2L239.2,208.8L240.0,208.5L240.8,208.1L241.6,207.7L242.4,207.4L243.1,207.0L243.9,206.6L244.7,206.2L245.5,205.9L246.3,205.5L247.1,205.1L247.9,204.7L248.6,204.3L249.4,203.9L250.2,203.4L251.0,203.0L251.8,202.6L252.6,202.2L253.3,201.8L254.1,201.3L254.9,200.9L255.7,200.4L256.5,200.0L257.3,199.5L258.1,199.1L258.8,198.6L259.6,198.1L260.4,197.7L261.2,197.2L262.0,196.7L262.8,196.2L263.5,195.7L264.3,195.3L265.1,194.8L265.9,194.3L266.7,193.8L267.5,193.2L268.3,192.7L269.0,192.2L269.8,191.7L270.6,191.2L271.4,190.6L272.2,190.1L273.0,189.6L273.7,189.0L274.5,188.5L275.3,187.9L276.1,187.4L276.9,186.8L277.7,186.2L278.5,185.7L279.2,185.1L280.0,184.5L280.8,183.9L281.6,183.4L282.4,182.8L283.2,182.2L283.9,181.6L284.7,181.0L285.5,180.4L286.3,179.8L287.1,179.2L287.9,178.6L288.7,178.0L289.4,177.4L290.2,176.8L291.0,176.1L291.8,175.5L292.6,174.9L293.4,174.3L294.1,173.6L294.9,173.0L295.7,172.4L296.5,171.7L297.3,171.1L298.1,170.5L298.9,169.8L299.6,169.2L300.4,168.5L301.2,167.9L302.0,167.2L302.8,166.6L303.6,165.9L304.3,165.3L305.1,164.6L305.9,164.0L306.7,163.3L307.5,162.6L308.3,162.0L309.1,161.3L309.8,160.6L310.6,160.0L311.4,159.3L312.2,158.6L313.0,157.9L313.8,157.3L314.5,156.6L315.3,155.9L316.1,155.2L316.9,154.6L317.7,153.9L318.5,153.2L319.3,152.5L320.0,151.9L320.8,151.2L321.6,150.5L322.4,149.8L323.2,149.1L324.0,148.4L324.7,147.8L325.5,147.1L326.3,146.4L327.1,145.7L327.9,145.0L328.7,144.3L329.5,143.6L330.2,142.9L331.0,142.3L331.8,141.6L332.6,140.9L333.4,140.2L334.2,139.5L334.9,138.8L335.7,138.1L336.5,137.4L337.3,136.8L338.1,136.1L338.9,135.4L339.7,134.7L340.4,134.0L341.2,133.3L342.0,132.6L342.8,131.9L343.6,131.2L344.4,130.6L345.1,129.9L345.9,129.2L346.7,128.5L347.5,127.8L348.3,127.1L349.1,126.4L349.9,125.7L350.6,125.0L351.4,124.3L352.2,123.6L353.0,123.0L353.8,122.3L354.6,121.6L355.3,120.9L356.1,120.2L356.9,119.5L357.7,118.8L358.5,118.1L359.3,117.4L360.1,116.7L360.8,116.0L361.6,115.3L362.4,114.7L363.2,114.0L364.0,113.3L364.8,112.6L365.5,111.9L366.3,111.2L367.1,110.5L367.9,109.8L368.7,109.1L369.5,108.4L370.3,107.7L371.0,107.0L371.8,106.3L372.6,105.7L373.4,105.0L374.2,104.3L375.0,103.6L375.7,102.9L376.5,102.2L377.3,101.5L378.1,100.8L378.9,100.1L379.7,99.4L380.5,98.7L381.2,98.0L382.0,97.4L382.8,96.7L383.6,96.0L384.4,95.3L385.2,94.6L385.9,93.9L386.7,93.2L387.5,92.5L388.3,91.8L389.1,91.1L389.9,90.4L390.6,89.7L391.4,89.1L392.2,88.4L393.0,87.7L393.8,87.0L394.6,86.3L395.4,85.6L396.1,84.9L396.9,84.2L397.7,83.5L398.5,82.8L399.3,82.1L400.1,81.4L400.8,80.8L401.6,80.1L402.4,79.4L403.2,78.7L404.0,78.0L404.8,77.3L405.6,76.6L406.3,75.9L407.1,75.2L407.9,74.5L408.7,73.8L409.5,73.2L410.3,72.5L411.0,71.8L411.8,71.1L412.6,70.4L413.4,69.7L414.2,69.0L415.0,68.3L415.8,67.6L416.5,66.9L417.3,66.2L418.1,65.5L418.9,64.9L419.7,64.2L420.5,63.5L421.2,62.8L422.0,62.1L422.8,61.4L423.6,60.7L424.4,60.0L425.2,59.3L426.0,58.6L426.7,57.9L427.5,57.2L428.3,56.6L429.1,55.9L429.9,55.2L430.7,54.5L431.4,53.8L432.2,53.1L433.0,52.4L433.8,51.7L434.6,51.0L435.4,50.3L436.2,49.6L436.9,49.0L437.7,48.3L438.5,47.6L439.3,46.9L440.1,46.2L440.9,45.5L441.6,44.8L442.4,44.1L443.2,43.4L444.0,42.7L444.8,42.0L445.6,41.3L446.4,40.7L447.1,40.0L447.9,39.3L448.7,38.6L449.5,37.9L450.3,37.2L451.1,36.5L451.8,35.8L452.6,35.1L453.4,34.4L454.2,33.7L455.0,33.1L455.8,32.4L456.6,31.7L457.3,31.0L458.1,30.3L458.9,29.6L459.7,28.9L460.5,28.2L461.3,27.5L462.0,26.8L462.8,26.1L463.6,25.4L464.4,24.8L465.2,24.1L466.0,23.4L466.8,22.7L467.5,22.0L468.3,21.3L469.1,20.6L469.9,19.9L470.7,19.2L471.5,18.5L472.2,17.8L473.0,17.2L473.8,16.5L474.6,15.8L474.6,17.8L473.8,18.5L473.0,19.2L472.2,19.9L471.5,20.6L470.7,21.3L469.9,22.0L469.1,22.6L468.3,23.3L467.5,24.0L466.8,24.7L466.0,25.4L465.2,26.1L464.4,26.8L463.6,27.5L462.8,28.2L462.0,28.9L461.3,29.6L460.5,30.2L459.7,30.9L458.9,31.6L458.1,32.3L457.3,33.0L456.6,33.7L455.8,34.4L455.0,35.1L454.2,35.8L453.4,36.5L452.6,37.2L451.8,37.9L451.1,38.5L450.3,39.2L449.5,39.9L448.7,40.6L447.9,41.3L447.1,42.0L446.4,42.7L445.6,43.4L444.8,44.1L444.0,44.8L443.2,45.5L442.4,46.1L441.6,46.8L440.9,47.5L440.1,48.2L439.3,48.9L438.5,49.6L437.7,50.3L436.9,51.0L436.2,51.7L435.4,52.4L434.6,53.1L433.8,53.8L433.0,54.4L432.2,55.1L431.4,55.8L430.7,56.5L429.9,57.2L429.1,57.9L428.3,58.6L427.5,59.3L426.7,60.0L426.0,60.7L425.2,61.4L424.4,62.1L423.6,62.7L422.8,63.4L422.0,64.1L421.2,64.8L420.5,65.5L419.7,66.2L418.9,66.9L418.1,67.6L417.3,68.3L416.5,69.0L415.8,69.7L415.0,70.4L414.2,71.0L413.4,71.7L412.6,72.4L411.8,73.1L411.0,73.8L410.3,74.5L409.5,75.2L408.7,75.9L407.9,76.6L407.1,77.3L406.3,78.0L405.6,78.7L404.8,79.4L404.0,80.0L403.2,80.7L402.4,81.4L401.6,82.1L400.8,82.8L400.1,83.5L399.3,84.2L398.5,84.9L397.7,85.6L396.9,86.3L396.1,87.0L395.4,87.7L394.6,88.4L393.8,89.0L393.0,89.7L392.2,90.4L391.4,91.1L390.6,91.8L389.9,92.5L389.1,93.2L388.3,93.9L387.5,94.6L386.7,95.3L385.9,96.0L385.2,96.7L384.4,97.4L383.6,98.1L382.8,98.8L382.0,99.5L381.2,100.1L380.5,100.8L379.7,101.5L378.9,102.2L378.1,102.9L377.3,103.6L376.5,104.3L375.7,105.0L375.0,105.7L374.2,106.4L373.4,107.1L372.6,107.8L371.8,108.5L371.0,109.2L370.3,109.9L369.5,110.6L368.7,111.3L367.9,112.0L367.1,112.7L366.3,113.4L365.5,114.1L364.8,114.7L364.0,115.4L363.2,116.1L362.4,116.8L361.6,117.5L360.8,118.2L360.1,118.9L359.3,119.6L358.5,120.3L357.7,121.0L356.9,121.7L356.1,122.4L355.3,123.1L354.6,123.8L353.8,124.5L353.0,125.2L352.2,125.9L351.4,126.6L350.6,127.3L349.9,128.0L349.1,128.7L348.3,129.4L347.5,130.1L346.7,130.8L345.9,131.5L345.1,132.2L344.4,132.9L343.6,133.6L342.8,134.3L342.0,135.0L341.2,135.7L340.4,136.4L339.7,137.1L338.9,137.8L338.1,138.5L337.3,139.2L336.5,140.0L335.7,140.7L334.9,141.4L334.2,142.1L333.4,142.8L332.6,143.5L331.8,144.2L331.0,144.9L330.2,145.6L329.5,146.3L328.7,147.0L327.9,147.7L327.1,148.4L326.3,149.1L325.5,149.8L324.7,150.5L324.0,151.2L323.2,151.9L322.4,152.6L321.6,153.3L320.8,154.0L320.0,154.7L319.3,155.4L318.5,156.1L317.7,156.8L316.9,157.5L316.1,158.2L315.3,158.9L314.5,159.6L313.8,160.3L313.0,161.0L312.2,161.7L311.4,162.4L310.6,163.1L309.8,163.8L309.1,164.5L308.3,165.2L307.5,165.9L306.7,166.6L305.9,167.3L305.1,168.0L304.3,168.7L303.6,169.4L302.8,170.1L302.0,170.8L301.2,171.5L300.4,172.2L299.6,172.9L298.9,173.6L298.1,174.3L297.3,174.9L296.5,175.6L295.7,176.3L294.9,177.0L294.1,177.7L293.4,178.4L292.6,179.1L291.8,179.8L291.0,180.5L290.2,181.1L289.4,181.8L288.7,182.5L287.9,183.2L287.1,183.9L286.3,184.5L285.5,185.2L284.7,185.9L283.9,186.6L283.2,187.2L282.4,187.9L281.6,188.6L280.8,189.2L280.0,189.9L279.2,190.6L278.5,191.2L277.7,191.9L276.9,192.5L276.1,193.2L275.3,193.9L274.5,194.5L273.7,195.2L273.0,195.8L272.2,196.4L271.4,197.1L270.6,197.7L269.8,198.4L269.0,199.0L268.3,199.6L267.5,200.3L266.7,200.9L265.9,201.5L265.1,202.2L264.3,202.8L263.5,203.4L262.8,204.0L262.0,204.6L261.2,205.2L260.4,205.9L259.6,206.5L258.8,207.1L258.1,207.7L257.3,208.3L256.5,208.9L255.7,209.5L254.9,210.0L254.1,210.6L253.3,211.2L252.6,211.8L251.8,212.4L251.0,212.9L250.2,213.5L249.4,214.1L248.6,214.6L247.9,215.2L247.1,215.8L246.3,216.3L245.5,216.9L244.7,217.4L243.9,218.0L243.1,218.5L242.4,219.0L241.6,219.6L240.8,220.1L240.0,220.6L239.2,221.2L238.4,221.7L237.7,222.2L236.9,222.7L236.1,223.2L235.3,223.8L234.5,224.3L233.7,224.8L232.9,225.3L232.2,225.8L231.4,226.3L230.6,226.7L229.8,227.2L229.0,227.7L228.2,228.2L227.5,228.7L226.7,229.1L225.9,229.6L225.1,230.1L224.3,230.5L223.5,231.0L222.7,231.4L222.0,231.9L221.2,232.3L220.4,232.8L219.6,233.2L218.8,233.6L218.0,234.1L217.3,234.5L216.5,234.9L215.7,235.3L214.9,235.7L214.1,236.1L213.3,236.6L212.5,237.0L211.8,237.4L211.0,237.8L210.2,238.1L209.4,238.5L208.6,238.9L207.8,239.3L207.1,239.7L206.3,240.0L205.5,240.4L204.7,240.8L203.9,241.1L203.1,241.5L202.3,241.9L201.6,242.2L200.8,242.6L200.0,242.9L199.2,243.2L198.4,243.6L197.6,243.9L196.9,244.2L196.1,244.6L195.3,244.9L194.5,245.2L193.7,245.5L192.9,245.8L192.2,246.1L191.4,246.4L190.6,246.7L189.8,247.0L189.0,247.3L188.2,247.6L187.4,247.9L186.7,248.2L185.9,248.5L185.1,248.8L184.3,249.0L183.5,249.3L182.7,249.6L182.0,249.8L181.2,250.1L180.4,250.3L179.6,250.6L178.8,250.9L178.0,251.1L177.2,251.3L176.5,251.6L175.7,251.8L174.9,252.1L174.1,252.3L173.3,252.5L172.5,252.7L171.8,253.0L171.0,253.2L170.2,253.4L169.4,253.6L168.6,253.8L167.8,254.0L167.0,254.2L166.3,254.4L165.5,254.6L164.7,254.8L163.9,255.0L163.1,255.2L162.3,255.4L161.6,255.6L160.8,255.8L160.0,255.9L159.2,256.1L158.4,256.3L157.6,256.5L156.8,256.6L156.1,256.8L155.3,257.0L154.5,257.1L153.7,257.3L152.9,257.4L152.1,257.6L151.4,257.8L150.6,257.9L149.8,258.1L149.0,258.2L148.2,258.3L147.4,258.5L146.6,258.6L145.9,258.8L145.1,258.9L144.3,259.0L143.5,259.2L142.7,259.3L141.9,259.4L141.2,259.5L140.4,259.7L139.6,259.8L138.8,259.9L138.0,260.0L137.2,260.1L136.4,260.2L135.7,260.3L134.9,260.5L134.1,260.6L133.3,260.7L132.5,260.8L131.7,260.9L131.0,261.0L130.2,261.1L129.4,261.2L128.6,261.3L127.8,261.4L127.0,261.4L126.2,261.5L125.5,261.6L124.7,261.7L123.9,261.8L123.1,261.9L122.3,262.0L121.5,262.0L120.8,262.1L120.0,262.2L119.2,262.3L118.4,262.4L117.6,262.4L116.8,262.5L116.0,262.6L115.3,262.7L114.5,262.7L113.7,262.8L112.9,262.9L112.1,262.9L111.3,263.0L110.6,263.1L109.8,263.1L109.0,263.2L108.2,263.2L107.4,263.3L106.6,263.4L105.8,263.4L105.1,263.5L104.3,263.5L103.5,263.6L102.7,263.6L101.9,263.7L101.1,263.7L100.4,263.8L99.6,263.8L98.8,263.9L98.0,263.9Z" fill="#da70c4"/>
<path d="M98.0,232.4L98.8,232.5L99.6,232.5L100.4,232.5L101.1,232.5L101.9,232.5L102.7,232.5L103.5,232.6L104.3,232.6L105.1,232.6L105.8,232.6L106.6,232.7L107.4,232.7L108.2,232.7L109.0,232.7L109.8,232.7L110.6,232.8L111.3,232.8L112.1,232.8L112.9,232.8L113.7,232.9L114.5,232.9L115.3,232.9L116.0,232.9L116.8,233.0L117.6,233.0L118.4,233.0L119.2,233.1L120.0,233.1L120.8,233.1L121.5,233.2L122.3,233.2L123.1,233.2L123.9,233.2L124.7,233.3L125.5,233.3L126.2,233.4L127.0,233.4L127.8,233.4L128.6,233.5L129.4,233.5L130.2,233.5L131.0,233.6L131.7,233.6L132.5,233.7L133.3,233.7L134.1,233.7L134.9,233.8L135.7,233.8L136.4,233.9L137.2,233.9L138.0,234.0L138.8,234.0L139.6,234.1L140.4,234.1L141.2,234.2L141.9,234.2L142.7,234.3L143.5,234.3L144.3,234.4L145.1,234.4L145.9,234.5L146.6,234.6L147.4,234.6L148.2,234.7L149.0,234.7L149.8,234.8L150.6,234.9L151.4,234.9L152.1,235.0L152.9,235.1L153.7,235.1L154.5,235.2L155.3,235.3L156.1,235.4L156.8,235.4L157.6,235.5L158.4,235.6L159.2,235.7L160.0,235.8L160.8,235.9L161.6,235.9L162.3,236.0L163.1,236.1L163.9,236.2L164.7,236.3L165.5,236.4L166.3,236.5L167.0,236.6L167.8,236.7L168.6,236.8L169.4,236.9L170.2,237.0L171.0,237.2L171.8,237.3L172.5,237.4L173.3,237.5L174.1,237.6L174.9,237.8L175.7,237.9L176.5,238.0L177.2,238.2L178.0,238.3L178.8,238.4L179.6,238.6L180.4,238.7L181.2,238.9L182.0,239.0L182.7,239.2L183.5,239.3L184.3,239.5L185.1,239.7L185.9,239.9L186.7,240.0L187.4,240.2L188.2,240.4L189.0,240.6L189.8,240.8L190.6,241.0L191.4,241.2L192.2,241.4L192.9,241.6L193.7,241.8L194.5,242.0L195.3,242.3L196.1,242.5L196.9,242.7L197.6,243.0L198.4,243.2L199.2,243.5L200.0,243.8L200.8,244.0L201.6,244.3L202.3,244.6L203.1,244.9L203.9,245.2L204.7,245.5L205.5,245.8L206.3,246.1L207.1,246.5L207.8,246.8L208.6,247.1L209.4,247.5L210.2,247.9L211.0,248.3L211.8,248.7L212.5,249.1L213.3,249.5L214.1,249.9L214.9,250.3L215.7,250.8L216.5,251.2L217.3,251.7L218.0,252.2L218.8,252.7L219.6,253.3L220.4,253.8L221.2,254.3L222.0,254.9L222.7,255.5L223.5,256.1L224.3,256.8L225.1,257.4L225.9,258.1L226.7,258.8L227.5,259.6L228.2,260.3L229.0,261.1L229.8,261.9L230.6,262.8L231.4,263.7L232.2,264.6L232.9,265.5L233.7,266.6L234.5,266.8L235.3,265.5L236.1,264.2L236.9,263.0L237.7,261.8L238.4,260.6L239.2,259.4L240.0,258.2L240.8,257.1L241.6,256.0L242.4,254.9L243.1,253.8L243.9,252.7L244.7,251.6L245.5,250.6L246.3,249.5L247.1,248.5L247.9,247.5L248.6,246.5L249.4,245.5L250.2,244.5L251.0,243.6L251.8,242.6L252.6,241.7L253.3,240.7L254.1,239.8L254.9,238.9L255.7,238.0L256.5,237.1L257.3,236.2L258.1,235.3L258.8,234.4L259.6,233.5L260.4,232.7L261.2,231.8L262.0,231.0L262.8,230.1L263.5,229.3L264.3,228.5L265.1,227.6L265.9,226.8L266.7,226.0L267.5,225.2L268.3,224.4L269.0,223.6L269.8,222.8L270.6,222.0L271.4,221.2L272.2,220.5L273.0,219.7L273.7,218.9L274.5,218.2L275.3,217.4L276.1,216.6L276.9,215.9L277.7,215.1L278.5,214.4L279.2,213.7L280.0,212.9L280.8,212.2L281.6,211.5L282.4,210.7L283.2,210.0L283.9,209.3L284.7,208.6L285.5,207.8L286.3,207.1L287.1,206.4L287.9,205.7L288.7,205.0L289.4,204.3L290.2,203.6L291.0,202.9L291.8,202.2L292.6,201.5L293.4,200.8L294.1,200.1L294.9,199.4L295.7,198.8L296.5,198.1L297.3,197.4L298.1,196.7L298.9,196.0L299.6,195.3L300.4,194.7L301.2,194.0L302.0,193.3L302.8,192.6L303.6,192.0L304.3,191.3L305.1,190.6L305.9,189.9L306.7,189.3L307.5,188.6L308.3,187.9L309.1,187.3L309.8,186.6L310.6,185.9L311.4,185.3L312.2,184.6L313.0,183.9L313.8,183.3L314.5,182.6L315.3,181.9L316.1,181.3L316.9,180.6L317.7,179.9L318.5,179.3L319.3,178.6L320.0,177.9L320.8,177.3L321.6,176.6L322.4,176.0L323.2,175.3L324.0,174.6L324.7,174.0L325.5,173.3L326.3,172.6L327.1,172.0L327.9,171.3L328.7,170.6L329.5,170.0L330.2,169.3L331.0,168.6L331.8,168.0L332.6,167.3L333.4,166.6L334.2,166.0L334.9,165.3L335.7,164.6L336.5,164.0L337.3,163.3L338.1,162.6L338.9,162.0L339.7,161.3L340.4,160.6L341.2,160.0L342.0,159.3L342.8,158.6L343.6,158.0L344.4,157.3L345.1,156.6L345.9,156.0L346.7,155.3L347.5,154.6L348.3,153.9L349.1,153.3L349.9,152.6L350.6,151.9L351.4,151.2L352.2,150.6L353.0,149.9L353.8,149.2L354.6,148.5L355.3,147.9L356.1,147.2L356.9,146.5L357.7,145.8L358.5,145.2L359.3,144.5L360.1,143.8L360.8,143.1L361.6,142.5L362.4,141.8L363.2,141.1L364.0,140.4L364.8,139.7L365.5,139.1L366.3,138.4L367.1,137.7L367.9,137.0L368.7,136.3L369.5,135.7L370.3,135.0L371.0,134.3L371.8,133.6L372.6,132.9L373.4,132.2L374.2,131.6L375.0,130.9L375.7,130.2L376.5,129.5L377.3,128.8L378.1,128.1L378.9,127.5L379.7,126.8L380.5,126.1L381.2,125.4L382.0,124.7L382.8,124.0L383.6,123.3L384.4,122.7L385.2,122.0L385.9,121.3L386.7,120.6L387.5,119.9L388.3,119.2L389.1,118.5L389.9,117.9L390.6,117.2L391.4,116.5L392.2,115.8L393.0,115.1L393.8,114.4L394.6,113.7L395.4,113.0L396.1,112.4L396.9,111.7L397.7,111.0L398.5,110.3L399.3,109.6L400.1,108.9L400.8,108.2L401.6,107.5L402.4,106.8L403.2,106.2L404.0,105.5L404.8,104.8L405.6,104.1L406.3,103.4L407.1,102.7L407.9,102.0L408.7,101.3L409.5,100.6L410.3,100.0L411.0,99.3L411.8,98.6L412.6,97.9L413.4,97.2L414.2,96.5L415.0,95.8L415.8,95.1L416.5,94.4L417.3,93.7L418.1,93.1L418.9,92.4L419.7,91.7L420.5,91.0L421.2,90.3L422.0,89.6L422.8,88.9L423.6,88.2L424.4,87.5L425.2,86.8L426.0,86.2L426.7,85.5L427.5,84.8L428.3,84.1L429.1,83.4L429.9,82.7L430.7,82.0L431.4,81.3L432.2,80.6L433.0,79.9L433.8,79.2L434.6,78.6L435.4,77.9L436.2,77.2L436.9,76.5L437.7,75.8L438.5,75.1L439.3,74.4L440.1,73.7L440.9,73.0L441.6,72.3L442.4,71.6L443.2,71.0L444.0,70.3L444.8,69.6L445.6,68.9L446.4,68.2L447.1,67.5L447.9,66.8L448.7,66.1L449.5,65.4L450.3,64.7L451.1,64.0L451.8,63.4L452.6,62.7L453.4,62.0L454.2,61.3L455.0,60.6L455.8,59.9L456.6,59.2L457.3,58.5L458.1,57.8L458.9,57.1L459.7,56.4L460.5,55.8L461.3,55.1L462.0,54.4L462.8,53.7L463.6,53.0L464.4,52.3L465.2,51.6L466.0,50.9L466.8,50.2L467.5,49.5L468.3,48.8L469.1,48.2L469.9,47.5L470.7,46.8L471.5,46.1L472.2,45.4L473.0,44.7L473.8,44.0L474.6,43.3L474.6,64.3L473.8,64.9L473.0,65.6L472.2,66.3L471.5,67.0L470.7,67.7L469.9,68.4L469.1,69.1L468.3,69.8L467.5,70.5L466.8,71.2L466.0,71.9L465.2,72.5L464.4,73.2L463.6,73.9L462.8,74.6L462.0,75.3L461.3,76.0L460.5,76.7L459.7,77.4L458.9,78.1L458.1,78.8L457.3,79.5L456.6,80.2L455.8,80.8L455.0,81.5L454.2,82.2L453.4,82.9L452.6,83.6L451.8,84.3L451.1,85.0L450.3,85.7L449.5,86.4L448.7,87.1L447.9,87.8L447.1,88.4L446.4,89.1L445.6,89.8L444.8,90.5L444.0,91.2L443.2,91.9L442.4,92.6L441.6,93.3L440.9,94.0L440.1,94.7L439.3,95.4L438.5,96.0L437.7,96.7L436.9,97.4L436.2,98.1L435.4,98.8L434.6,99.5L433.8,100.2L433.0,100.9L432.2,101.6L431.4,102.3L430.7,103.0L429.9,103.6L429.1,104.3L428.3,105.0L427.5,105.7L426.7,106.4L426.0,107.1L425.2,107.8L424.4,108.5L423.6,109.2L422.8,109.9L422.0,110.6L421.2,111.2L420.5,111.9L419.7,112.6L418.9,113.3L418.1,114.0L417.3,114.7L416.5,115.4L415.8,116.1L415.0,116.8L414.2,117.5L413.4,118.2L412.6,118.8L411.8,119.5L411.0,120.2L410.3,120.9L409.5,121.6L408.7,122.3L407.9,123.0L407.1,123.7L406.3,124.4L405.6,125.1L404.8,125.8L404.0,126.4L403.2,127.1L402.4,127.8L401.6,128.5L400.8,129.2L400.1,129.9L399.3,130.6L398.5,131.3L397.7,132.0L396.9,132.7L396.1,133.3L395.4,134.0L394.6,134.7L393.8,135.4L393.0,136.1L392.2,136.8L391.4,137.5L390.6,138.2L389.9,138.9L389.1,139.6L388.3,140.2L387.5,140.9L386.7,141.6L385.9,142.3L385.2,143.0L384.4,143.7L383.6,144.4L382.8,145.1L382.0,145.8L381.2,146.5L380.5,147.1L379.7,147.8L378.9,148.5L378.1,149.2L377.3,149.9L376.5,150.6L375.7,151.3L375.0,152.0L374.2,152.7L373.4,153.3L372.6,154.0L371.8,154.7L371.0,155.4L370.3,156.1L369.5,156.8L368.7,157.5L367.9,158.2L367.1,158.9L366.3,159.5L365.5,160.2L364.8,160.9L364.0,161.6L363.2,162.3L362.4,163.0L361.6,163.7L360.8,164.4L360.1,165.1L359.3,165.7L358.5,166.4L357.7,167.1L356.9,167.8L356.1,168.5L355.3,169.2L354.6,169.9L353.8,170.6L353.0,171.3L352.2,172.0L351.4,172.6L350.6,173.3L349.9,174.0L349.1,174.7L348.3,175.4L347.5,176.1L346.7,176.8L345.9,177.5L345.1,178.2L344.4,178.9L343.6,179.6L342.8,180.3L342.0,181.0L341.2,181.7L340.4,182.4L339.7,183.1L338.9,183.8L338.1,184.5L337.3,185.2L336.5,185.9L335.7,186.6L334.9,187.3L334.2,188.0L333.4,188.7L332.6,189.4L331.8,190.1L331.0,190.8L330.2,191.5L329.5,192.2L328.7,193.0L327.9,193.7L327.1,194.4L326.3,195.1L325.5,195.8L324.7,196.6L324.0,197.3L323.2,198.0L322.4,198.8L321.6,199.5L320.8,200.2L320.0,201.0L319.3,201.7L318.5,202.5L317.7,203.2L316.9,204.0L316.1,204.7L315.3,205.5L314.5,206.3L313.8,207.0L313.0,207.8L312.2,208.6L311.4,209.4L310.6,210.2L309.8,211.0L309.1,211.8L308.3,212.6L307.5,213.4L306.7,214.2L305.9,215.1L305.1,215.9L304.3,216.7L303.6,217.6L302.8,218.5L302.0,219.3L301.2,220.2L300.4,221.1L299.6,222.0L298.9,222.9L298.1,223.8L297.3,224.7L296.5,225.7L295.7,226.6L294.9,227.6L294.1,228.6L293.4,229.6L292.6,230.6L291.8,231.6L291.0,232.6L290.2,233.7L289.4,234.8L288.7,235.9L287.9,237.0L287.1,238.1L286.3,239.3L285.5,240.5L284.7,241.7L283.9,242.9L283.2,244.1L282.4,245.4L281.6,246.8L280.8,248.1L280.0,249.5L279.2,250.9L278.5,252.4L277.7,253.9L276.9,255.5L276.1,257.1L275.3,258.7L274.5,260.5L273.7,262.3L273.0,264.1L272.2,266.0L271.4,268.1L270.6,270.2L269.8,272.4L269.0,274.7L268.3,277.2L267.5,279.8L266.7,282.6L265.9,285.5L265.1,288.7L264.3,292.2L263.5,295.9L262.8,300.1L262.0,304.7L261.2,310.0L260.4,316.0L259.6,323.2L258.8,332.1L258.1,343.7L257.3,360.6L256.5,367.0L255.7,367.0L254.9,367.0L254.1,367.0L253.3,367.0L252.6,367.0L251.8,367.0L251.0,367.0L250.2,367.0L249.4,367.0L248.6,367.0L247.9,367.0L247.1,367.0L246.3,367.0L245.5,367.0L244.7,367.0L243.9,367.0L243.1,367.0L242.4,367.0L241.6,367.0L240.8,367.0L240.0,367.0L239.2,367.0L238.4,367.0L237.7,367.0L236.9,367.0L236.1,367.0L235.3,367.0L234.5,367.0L233.7,367.0L232.9,367.0L232.2,367.0L231.4,367.0L230.6,367.0L229.8,367.0L229.0,367.0L228.2,367.0L227.5,367.0L226.7,367.0L225.9,367.0L225.1,367.0L224.3,367.0L223.5,367.0L222.7,367.0L222.0,367.0L221.2,367.0L220.4,367.0L219.6,367.0L218.8,367.0L218.0,367.0L217.3,367.0L216.5,367.0L215.7,367.0L214.9,367.0L214.1,367.0L213.3,367.0L212.5,367.0L211.8,367.0L211.0,367.0L210.2,367.0L209.4,367.0L208.6,367.0L207.8,367.0L207.1,367.0L206.3,367.0L205.5,367.0L204.7,367.0L203.9,367.0L203.1,367.0L202.3,367.0L201.6,358.8L200.8,351.7L200.0,345.8L199.2,340.8L198.4,336.5L197.6,332.7L196.9,329.4L196.1,326.3L195.3,323.6L194.5,321.1L193.7,318.8L192.9,316.7L192.2,314.7L191.4,312.9L190.6,311.2L189.8,309.6L189.0,308.1L188.2,306.6L187.4,305.3L186.7,304.0L185.9,302.8L185.1,301.7L184.3,300.6L183.5,299.5L182.7,298.5L182.0,297.6L181.2,296.7L180.4,295.8L179.6,295.0L178.8,294.2L178.0,293.4L177.2,292.7L176.5,292.0L175.7,291.3L174.9,290.6L174.1,290.0L173.3,289.4L172.5,288.8L171.8,288.2L171.0,287.7L170.2,287.1L169.4,286.6L168.6,286.1L167.8,285.6L167.0,285.2L166.3,284.7L165.5,284.3L164.7,283.8L163.9,283.4L163.1,283.0L162.3,282.6L161.6,282.3L160.8,281.9L160.0,281.5L159.2,281.2L158.4,280.8L157.6,280.5L156.8,280.2L156.1,279.9L155.3,279.6L154.5,279.3L153.7,279.0L152.9,278.7L152.1,278.4L151.4,278.2L150.6,277.9L149.8,277.7L149.0,277.4L148.2,277.2L147.4,277.0L146.6,276.7L145.9,276.5L145.1,276.3L144.3,276.1L143.5,275.9L142.7,275.7L141.9,275.5L141.2,275.3L140.4,275.1L139.6,274.9L138.8,274.7L138.0,274.6L137.2,274.4L136.4,274.2L135.7,274.1L134.9,273.9L134.1,273.8L133.3,273.6L132.5,273.5L131.7,273.3L131.0,273.2L130.2,273.0L129.4,272.9L128.6,272.8L127.8,272.7L127.0,272.5L126.2,272.4L125.5,272.3L124.7,272.2L123.9,272.1L123.1,271.9L122.3,271.8L121.5,271.7L120.8,271.6L120.0,271.5L119.2,271.4L118.4,271.3L117.6,271.2L116.8,271.1L116.0,271.0L115.3,270.9L114.5,270.9L113.7,270.8L112.9,270.7L112.1,270.6L111.3,270.5L110.6,270.4L109.8,270.4L109.0,270.3L108.2,270.2L107.4,270.1L106.6,270.1L105.8,270.0L105.1,269.9L104.3,269.9L103.5,269.8L102.7,269.7L101.9,269.7L101.1,269.6L100.4,269.5L99.6,269.5L98.8,269.4L98.0,269.4Z" fill="#468fe7" fill-opacity="0.63"/>
<path d="M98.0,209.5L98.8,209.5L99.6,209.6L100.4,209.6L101.1,209.6L101.9,209.6L102.7,209.6L103.5,209.6L104.3,209.6L105.1,209.6L105.8,209.6L106.6,209.7L107.4,209.7L108.2,209.7L109.0,209.7L109.8,209.7L110.6,209.7L111.3,209.7L112.1,209.7L112.9,209.8L113.7,209.8L114.5,209.8L115.3,209.8L116.0,209.8L116.8,209.8L117.6,209.8L118.4,209.8L119.2,209.9L120.0,209.9L120.8,209.9L121.5,209.9L122.3,209.9L123.1,209.9L123.9,210.0L124.7,210.0L125.5,210.0L126.2,210.0L127.0,210.0L127.8,210.1L128.6,210.1L129.4,210.1L130.2,210.1L131.0,210.1L131.7,210.2L132.5,210.2L133.3,210.2L134.1,210.2L134.9,210.2L135.7,210.3L136.4,210.3L137.2,210.3L138.0,210.3L138.8,210.4L139.6,210.4L140.4,210.4L141.2,210.4L141.9,210.5L142.7,210.5L143.5,210.5L144.3,210.6L145.1,210.6L145.9,210.6L146.6,210.6L147.4,210.7L148.2,210.7L149.0,210.7L149.8,210.8L150.6,210.8L151.4,210.8L152.1,210.9L152.9,210.9L153.7,210.9L154.5,211.0L155.3,211.0L156.1,211.1L156.8,211.1L157.6,211.1L158.4,211.2L159.2,211.2L160.0,211.3L160.8,211.3L161.6,211.3L162.3,211.4L163.1,211.4L163.9,211.5L164.7,211.5L165.5,211.6L166.3,211.6L167.0,211.7L167.8,211.7L168.6,211.8L169.4,211.8L170.2,211.9L171.0,211.9L171.8,212.0L172.5,212.1L173.3,212.1L174.1,212.2L174.9,212.2L175.7,212.3L176.5,212.4L177.2,212.4L178.0,212.5L178.8,212.6L179.6,212.6L180.4,212.7L181.2,212.8L182.0,212.9L182.7,212.9L183.5,213.0L184.3,213.1L185.1,213.2L185.9,213.2L186.7,213.3L187.4,213.4L188.2,213.5L189.0,213.6L189.8,213.7L190.6,213.8L191.4,213.9L192.2,214.0L192.9,214.1L193.7,214.2L194.5,214.3L195.3,214.4L196.1,214.5L196.9,214.6L197.6,214.7L198.4,214.8L199.2,214.9L200.0,215.0L200.8,215.2L201.6,215.3L202.3,215.4L203.1,215.5L203.9,215.7L204.7,215.8L205.5,215.9L206.3,216.1L207.1,216.2L207.8,216.4L208.6,216.5L209.4,216.7L210.2,216.8L211.0,217.0L211.8,217.1L212.5,217.3L213.3,217.5L214.1,217.7L214.9,217.8L215.7,218.0L216.5,218.2L217.3,218.4L218.0,218.6L218.8,218.8L219.6,219.0L220.4,219.2L221.2,219.4L222.0,219.6L222.7,219.8L223.5,220.0L224.3,220.3L225.1,220.5L225.9,220.8L226.7,221.0L227.5,221.3L228.2,221.5L229.0,221.8L229.8,222.0L230.6,222.3L231.4,222.6L232.2,222.9L232.9,223.2L233.7,223.5L234.5,223.8L235.3,224.1L236.1,224.4L236.9,224.8L237.7,225.1L238.4,225.5L239.2,225.8L240.0,226.2L240.8,226.6L241.6,227.0L242.4,227.4L243.1,227.8L243.9,228.2L244.7,228.6L245.5,229.1L246.3,229.5L247.1,230.0L247.9,230.5L248.6,230.9L249.4,231.5L250.2,232.0L251.0,232.5L251.8,233.1L252.6,233.6L253.3,234.2L254.1,234.8L254.9,235.4L255.7,236.1L256.5,236.7L257.3,237.4L258.1,238.1L258.8,238.8L259.6,239.6L260.4,240.3L261.2,241.1L262.0,242.0L262.8,242.8L263.5,243.7L264.3,244.7L265.1,245.6L265.9,246.6L266.7,247.7L267.5,248.8L268.3,249.9L269.0,251.1L269.8,252.3L270.6,253.6L271.4,255.0L272.2,256.4L273.0,255.7L273.7,253.7L274.5,251.7L275.3,249.8L276.1,248.0L276.9,246.2L277.7,244.5L278.5,242.9L279.2,241.3L280.0,239.7L280.8,238.2L281.6,236.7L282.4,235.3L283.2,233.9L283.9,232.5L284.7,231.2L285.5,229.8L286.3,228.6L287.1,227.3L287.9,226.1L288.7,224.8L289.4,223.6L290.2,222.5L291.0,221.3L291.8,220.2L292.6,219.0L293.4,217.9L294.1,216.8L294.9,215.8L295.7,214.7L296.5,213.7L297.3,212.6L298.1,211.6L298.9,210.6L299.6,209.6L300.4,208.6L301.2,207.6L302.0,206.7L302.8,205.7L303.6,204.8L304.3,203.8L305.1,202.9L305.9,202.0L306.7,201.1L307.5,200.2L308.3,199.3L309.1,198.4L309.8,197.5L310.6,196.6L311.4,195.7L312.2,194.9L313.0,194.0L313.8,193.1L314.5,192.3L315.3,191.5L316.1,190.6L316.9,189.8L317.7,188.9L318.5,188.1L319.3,187.3L320.0,186.5L320.8,185.7L321.6,184.9L322.4,184.1L323.2,183.3L324.0,182.5L324.7,181.7L325.5,180.9L326.3,180.1L327.1,179.3L327.9,178.5L328.7,177.7L329.5,177.0L330.2,176.2L331.0,175.4L331.8,174.7L332.6,173.9L333.4,173.1L334.2,172.4L334.9,171.6L335.7,170.8L336.5,170.1L337.3,169.3L338.1,168.6L338.9,167.8L339.7,167.1L340.4,166.3L341.2,165.6L342.0,164.9L342.8,164.1L343.6,163.4L344.4,162.6L345.1,161.9L345.9,161.2L346.7,160.4L347.5,159.7L348.3,159.0L349.1,158.3L349.9,157.5L350.6,156.8L351.4,156.1L352.2,155.4L353.0,154.6L353.8,153.9L354.6,153.2L355.3,152.5L356.1,151.7L356.9,151.0L357.7,150.3L358.5,149.6L359.3,148.9L360.1,148.2L360.8,147.4L361.6,146.7L362.4,146.0L363.2,145.3L364.0,144.6L364.8,143.9L365.5,143.2L366.3,142.5L367.1,141.8L367.9,141.1L368.7,140.3L369.5,139.6L370.3,138.9L371.0,138.2L371.8,137.5L372.6,136.8L373.4,136.1L374.2,135.4L375.0,134.7L375.7,134.0L376.5,133.3L377.3,132.6L378.1,131.9L378.9,131.2L379.7,130.5L380.5,129.8L381.2,129.1L382.0,128.4L382.8,127.7L383.6,127.0L384.4,126.3L385.2,125.6L385.9,124.9L386.7,124.2L387.5,123.5L388.3,122.8L389.1,122.1L389.9,121.4L390.6,120.7L391.4,120.0L392.2,119.3L393.0,118.6L393.8,117.9L394.6,117.2L395.4,116.5L396.1,115.8L396.9,115.1L397.7,114.5L398.5,113.8L399.3,113.1L400.1,112.4L400.8,111.7L401.6,111.0L402.4,110.3L403.2,109.6L404.0,108.9L404.8,108.2L405.6,107.5L406.3,106.8L407.1,106.1L407.9,105.4L408.7,104.7L409.5,104.0L410.3,103.3L411.0,102.6L411.8,102.0L412.6,101.3L413.4,100.6L414.2,99.9L415.0,99.2L415.8,98.5L416.5,97.8L417.3,97.1L418.1,96.4L418.9,95.7L419.7,95.0L420.5,94.3L421.2,93.6L422.0,92.9L422.8,92.3L423.6,91.6L424.4,90.9L425.2,90.2L426.0,89.5L426.7,88.8L427.5,88.1L428.3,87.4L429.1,86.7L429.9,86.0L430.7,85.3L431.4,84.6L432.2,83.9L433.0,83.3L433.8,82.6L434.6,81.9L435.4,81.2L436.2,80.5L436.9,79.8L437.7,79.1L438.5,78.4L439.3,77.7L440.1,77.0L440.9,76.3L441.6,75.6L442.4,75.0L443.2,74.3L444.0,73.6L444.8,72.9L445.6,72.2L446.4,71.5L447.1,70.8L447.9,70.1L448.7,69.4L449.5,68.7L450.3,68.0L451.1,67.3L451.8,66.7L452.6,66.0L453.4,65.3L454.2,64.6L455.0,63.9L455.8,63.2L456.6,62.5L457.3,61.8L458.1,61.1L458.9,60.4L459.7,59.7L460.5,59.0L461.3,58.4L462.0,57.7L462.8,57.0L463.6,56.3L464.4,55.6L465.2,54.9L466.0,54.2L466.8,53.5L467.5,52.8L468.3,52.1L469.1,51.4L469.9,50.8L470.7,50.1L471.5,49.4L472.2,48.7L473.0,48.0L473.8,47.3L474.6,46.6L474.6,71.2L473.8,71.9L473.0,72.6L472.2,73.3L471.5,74.0L470.7,74.6L469.9,75.3L469.1,76.0L468.3,76.7L467.5,77.4L466.8,78.1L466.0,78.8L465.2,79.5L464.4,80.2L463.6,80.9L462.8,81.6L462.0,82.3L461.3,82.9L460.5,83.6L459.7,84.3L458.9,85.0L458.1,85.7L457.3,86.4L456.6,87.1L455.8,87.8L455.0,88.5L454.2,89.2L453.4,89.9L452.6,90.6L451.8,91.2L451.1,91.9L450.3,92.6L449.5,93.3L448.7,94.0L447.9,94.7L447.1,95.4L446.4,96.1L445.6,96.8L444.8,97.5L444.0,98.2L443.2,98.9L442.4,99.6L441.6,100.3L440.9,100.9L440.1,101.6L439.3,102.3L438.5,103.0L437.7,103.7L436.9,104.4L436.2,105.1L435.4,105.8L434.6,106.5L433.8,107.2L433.0,107.9L432.2,108.6L431.4,109.3L430.7,110.0L429.9,110.7L429.1,111.3L428.3,112.0L427.5,112.7L426.7,113.4L426.0,114.1L425.2,114.8L424.4,115.5L423.6,116.2L422.8,116.9L422.0,117.6L421.2,118.3L420.5,119.0L419.7,119.7L418.9,120.4L418.1,121.1L417.3,121.8L416.5,122.5L415.8,123.2L415.0,123.9L414.2,124.6L413.4,125.3L412.6,126.0L411.8,126.7L411.0,127.4L410.3,128.1L409.5,128.8L408.7,129.4L407.9,130.1L407.1,130.8L406.3,131.5L405.6,132.2L404.8,132.9L404.0,133.6L403.2,134.4L402.4,135.1L401.6,135.8L400.8,136.5L400.1,137.2L399.3,137.9L398.5,138.6L397.7,139.3L396.9,140.0L396.1,140.7L395.4,141.4L394.6,142.1L393.8,142.8L393.0,143.5L392.2,144.2L391.4,144.9L390.6,145.6L389.9,146.3L389.1,147.1L388.3,147.8L387.5,148.5L386.7,149.2L385.9,149.9L385.2,150.6L384.4,151.3L383.6,152.1L382.8,152.8L382.0,153.5L381.2,154.2L380.5,154.9L379.7,155.7L378.9,156.4L378.1,157.1L377.3,157.8L376.5,158.6L375.7,159.3L375.0,160.0L374.2,160.7L373.4,161.5L372.6,162.2L371.8,162.9L371.0,163.7L370.3,164.4L369.5,165.2L368.7,165.9L367.9,166.6L367.1,167.4L366.3,168.1L365.5,168.9L364.8,169.6L364.0,170.4L363.2,171.1L362.4,171.9L361.6,172.7L360.8,173.4L360.1,174.2L359.3,175.0L358.5,175.7L357.7,176.5L356.9,177.3L356.1,178.1L355.3,178.8L354.6,179.6L353.8,180.4L353.0,181.2L352.2,182.0L351.4,182.8L350.6,183.6L349.9,184.4L349.1,185.2L348.3,186.1L347.5,186.9L346.7,187.7L345.9,188.5L345.1,189.4L344.4,190.2L343.6,191.1L342.8,191.9L342.0,192.8L341.2,193.6L340.4,194.5L339.7,195.4L338.9,196.3L338.1,197.2L337.3,198.0L336.5,199.0L335.7,199.9L334.9,200.8L334.2,201.7L333.4,202.7L332.6,203.6L331.8,204.6L331.0,205.5L330.2,206.5L329.5,207.5L328.7,208.5L327.9,209.5L327.1,210.6L326.3,211.6L325.5,212.6L324.7,213.7L324.0,214.8L323.2,215.9L322.4,217.0L321.6,218.2L320.8,219.3L320.0,220.5L319.3,221.7L318.5,222.9L317.7,224.1L316.9,225.4L316.1,226.7L315.3,228.0L314.5,229.4L313.8,230.8L313.0,232.2L312.2,233.6L311.4,235.1L310.6,236.7L309.8,238.3L309.1,239.9L308.3,241.6L307.5,243.3L306.7,245.1L305.9,247.0L305.1,249.0L304.3,251.0L303.6,253.1L302.8,255.4L302.0,257.7L301.2,260.2L300.4,262.8L299.6,265.6L298.9,268.6L298.1,271.8L297.3,275.3L296.5,279.1L295.7,283.4L294.9,288.1L294.1,293.4L293.4,299.6L292.6,307.0L291.8,316.2L291.0,328.4L290.2,346.6L289.4,367.0L288.7,367.0L287.9,367.0L287.1,367.0L286.3,367.0L285.5,367.0L284.7,367.0L283.9,367.0L283.2,367.0L282.4,367.0L281.6,367.0L280.8,367.0L280.0,367.0L279.2,367.0L278.5,367.0L277.7,367.0L276.9,367.0L276.1,367.0L275.3,367.0L274.5,367.0L273.7,367.0L273.0,367.0L272.2,367.0L271.4,367.0L270.6,367.0L269.8,367.0L269.0,367.0L268.3,367.0L267.5,367.0L266.7,367.0L265.9,367.0L265.1,367.0L264.3,367.0L263.5,367.0L262.8,367.0L262.0,367.0L261.2,367.0L260.4,367.0L259.6,367.0L258.8,367.0L258.1,367.0L257.3,367.0L256.5,367.0L255.7,346.6L254.9,331.8L254.1,321.4L253.3,313.5L252.6,307.1L251.8,301.8L251.0,297.2L250.2,293.2L249.4,289.7L248.6,286.5L247.9,283.6L247.1,281.0L246.3,278.6L245.5,276.3L244.7,274.3L243.9,272.4L243.1,270.6L242.4,268.9L241.6,267.3L240.8,265.8L240.0,264.4L239.2,263.1L238.4,261.8L237.7,260.6L236.9,259.5L236.1,258.4L235.3,257.3L234.5,256.3L233.7,255.4L232.9,254.5L232.2,253.6L231.4,252.7L230.6,251.9L229.8,251.2L229.0,250.4L228.2,249.7L227.5,249.0L226.7,248.3L225.9,247.7L225.1,247.0L224.3,246.4L223.5,245.9L222.7,245.3L222.0,244.7L221.2,244.2L220.4,243.7L219.6,243.2L218.8,242.7L218.0,242.3L217.3,241.8L216.5,241.4L215.7,240.9L214.9,240.5L214.1,240.1L213.3,239.7L212.5,239.3L211.8,239.0L211.0,238.6L210.2,238.3L209.4,237.9L208.6,237.6L207.8,237.3L207.1,237.0L206.3,236.6L205.5,236.3L204.7,236.1L203.9,235.8L203.1,235.5L202.3,235.2L201.6,235.0L200.8,234.7L200.0,234.5L199.2,234.2L198.4,234.0L197.6,233.7L196.9,233.5L196.1,233.3L195.3,233.1L194.5,232.9L193.7,232.7L192.9,232.5L192.2,232.3L191.4,232.1L190.6,231.9L189.8,231.7L189.0,231.5L188.2,231.4L187.4,231.2L186.7,231.0L185.9,230.9L185.1,230.7L184.3,230.5L183.5,230.4L182.7,230.2L182.0,230.1L181.2,230.0L180.4,229.8L179.6,229.7L178.8,229.6L178.0,229.4L177.2,229.3L176.5,229.2L175.7,229.1L174.9,228.9L174.1,228.8L173.3,228.7L172.5,228.6L171.8,228.5L171.0,228.4L170.2,228.3L169.4,228.2L168.6,228.1L167.8,228.0L167.0,227.9L166.3,227.8L165.5,227.7L164.7,227.6L163.9,227.5L163.1,227.4L162.3,227.3L161.6,227.3L160.8,227.2L160.0,227.1L159.2,227.0L158.4,226.9L157.6,226.9L156.8,226.8L156.1,226.7L155.3,226.7L154.5,226.6L153.7,226.5L152.9,226.5L152.1,226.4L151.4,226.3L150.6,226.3L149.8,226.2L149.0,226.1L148.2,226.1L147.4,226.0L146.6,226.0L145.9,225.9L145.1,225.9L144.3,225.8L143.5,225.8L142.7,225.7L141.9,225.7L141.2,225.6L140.4,225.6L139.6,225.5L138.8,225.5L138.0,225.4L137.2,225.4L136.4,225.3L135.7,225.3L134.9,225.3L134.1,225.2L133.3,225.2L132.5,225.1L131.7,225.1L131.0,225.1L130.2,225.0L129.4,225.0L128.6,225.0L127.8,224.9L127.0,224.9L126.2,224.9L125.5,224.8L124.7,224.8L123.9,224.8L123.1,224.7L122.3,224.7L121.5,224.7L120.8,224.7L120.0,224.6L119.2,224.6L118.4,224.6L117.6,224.5L116.8,224.5L116.0,224.5L115.3,224.5L114.5,224.4L113.7,224.4L112.9,224.4L112.1,224.4L111.3,224.3L110.6,224.3L109.8,224.3L109.0,224.3L108.2,224.3L107.4,224.2L106.6,224.2L105.8,224.2L105.1,224.2L104.3,224.2L103.5,224.1L102.7,224.1L101.9,224.1L101.1,224.1L100.4,224.1L99.6,224.1L98.8,224.0L98.0,224.0Z" fill="#00cd00" fill-opacity="0.65"/>
<path d="M98.0,123.4L98.8,123.4L99.6,123.4L100.4,123.4L101.1,123.4L101.9,123.4L102.7,123.4L103.5,123.4L104.3,123.4L105.1,123.4L105.8,123.4L106.6,123.4L107.4,123.4L108.2,123.4L109.0,123.4L109.8,123.4L110.6,123.4L111.3,123.4L112.1,123.4L112.9,123.4L113.7,123.4L114.5,123.4L115.3,123.4L116.0,123.4L116.8,123.4L117.6,123.4L118.4,123.4L119.2,123.4L120.0,123.4L120.8,123.4L121.5,123.4L122.3,123.4L123.1,123.4L123.9,123.4L124.7,123.4L125.5,123.4L126.2,123.4L127.0,123.4L127.8,123.4L128.6,123.4L129.4,123.4L130.2,123.4L131.0,123.4L131.7,123.4L132.5,123.4L133.3,123.4L134.1,123.4L134.9,123.4L135.7,123.4L136.4,123.4L137.2,123.4L138.0,123.4L138.8,123.4L139.6,123.4L140.4,123.4L141.2,123.4L141.9,123.4L142.7,123.4L143.5,123.4L144.3,123.4L145.1,123.4L145.9,123.4L146.6,123.4L147.4,123.4L148.2,123.4L149.0,123.4L149.8,123.4L150.6,123.4L151.4,123.4L152.1,123.4L152.9,123.4L153.7,123.4L154.5,123.4L155.3,123.4L156.1,123.4L156.8,123.4L157.6,123.4L158.4,123.4L159.2,123.4L160.0,123.4L160.8,123.4L161.6,123.4L162.3,123.4L163.1,123.4L163.9,123.4L164.7,123.4L165.5,123.4L166.3,123.4L167.0,123.4L167.8,123.4L168.6,123.4L169.4,123.4L170.2,123.4L171.0,123.4L171.8,123.4L172.5,123.4L173.3,123.4L174.1,123.4L174.9,123.4L175.7,123.4L176.5,123.4L177.2,123.4L178.0,123.4L178.8,123.4L179.6,123.4L180.4,123.4L181.2,123.4L182.0,123.4L182.7,123.4L183.5,123.4L184.3,123.4L185.1,123.4L185.9,123.4L186.7,123.3L187.4,123.3L188.2,123.3L189.0,123.3L189.8,123.3L190.6,123.3L191.4,123.3L192.2,123.3L192.9,123.3L193.7,123.3L194.5,123.3L195.3,123.3L196.1,123.3L196.9,123.3L197.6,123.3L198.4,123.3L199.2,123.3L200.0,123.3L200.8,123.3L201.6,123.3L202.3,123.3L203.1,123.3L203.9,123.3L204.7,123.3L205.5,123.3L206.3,123.3L207.1,123.3L207.8,123.3L208.6,123.3L209.4,123.3L210.2,123.3L211.0,123.3L211.8,123.3L212.5,123.3L213.3,123.3L214.1,123.3L214.9,123.3L215.7,123.3L216.5,123.3L217.3,123.3L218.0,123.3L218.8,123.3L219.6,123.3L220.4,123.3L221.2,123.3L222.0,123.3L222.7,123.3L223.5,123.3L224.3,123.3L225.1,123.3L225.9,123.3L226.7,123.3L227.5,123.3L228.2,123.3L229.0,123.3L229.8,123.3L230.6,123.3L231.4,123.3L232.2,123.3L232.9,123.3L233.7,123.3L234.5,123.3L235.3,123.3L236.1,123.3L236.9,123.3L237.7,123.3L238.4,123.3L239.2,123.3L240.0,123.3L240.8,123.3L241.6,123.3L242.4,123.3L243.1,123.3L243.9,123.3L244.7,123.3L245.5,123.3L246.3,123.3L247.1,123.3L247.9,123.3L248.6,123.2L249.4,123.2L250.2,123.2L251.0,123.2L251.8,123.2L252.6,123.2L253.3,123.2L254.1,123.2L254.9,123.2L255.7,123.2L256.5,123.2L257.3,123.2L258.1,123.2L258.8,123.2L259.6,123.2L260.4,123.2L261.2,123.2L262.0,123.2L262.8,123.1L263.5,123.1L264.3,123.1L265.1,123.1L265.9,123.1L266.7,123.1L267.5,123.1L268.3,123.1L269.0,123.1L269.8,123.1L270.6,123.0L271.4,123.0L272.2,123.0L273.0,123.0L273.7,123.0L274.5,123.0L275.3,123.0L276.1,122.9L276.9,122.9L277.7,122.9L278.5,122.9L279.2,122.9L280.0,122.9L280.8,122.8L281.6,122.8L282.4,122.8L283.2,122.8L283.9,122.8L284.7,122.7L285.5,122.7L286.3,122.7L287.1,122.7L287.9,122.6L288.7,122.6L289.4,122.6L290.2,122.6L291.0,122.5L291.8,122.5L292.6,122.5L293.4,122.4L294.1,122.4L294.9,122.4L295.7,122.3L296.5,122.3L297.3,122.2L298.1,122.2L298.9,122.1L299.6,122.1L300.4,122.1L301.2,122.0L302.0,122.0L302.8,121.9L303.6,121.8L304.3,121.8L305.1,121.7L305.9,121.7L306.7,121.6L307.5,121.5L308.3,121.5L309.1,121.4L309.8,121.3L310.6,121.3L311.4,121.2L312.2,121.1L313.0,121.0L313.8,120.9L314.5,120.8L315.3,120.8L316.1,120.7L316.9,120.6L317.7,120.5L318.5,120.4L319.3,120.2L320.0,120.1L320.8,120.0L321.6,119.9L322.4,119.8L323.2,119.7L324.0,119.5L324.7,119.4L325.5,119.2L326.3,119.1L327.1,119.0L327.9,118.8L328.7,118.6L329.5,118.5L330.2,118.3L331.0,118.2L331.8,118.0L332.6,117.8L333.4,117.6L334.2,117.4L334.9,117.2L335.7,117.0L336.5,116.8L337.3,116.6L338.1,116.4L338.9,116.2L339.7,115.9L340.4,115.7L341.2,115.4L342.0,115.2L342.8,114.9L343.6,114.7L344.4,114.4L345.1,114.1L345.9,113.9L346.7,113.6L347.5,113.3L348.3,113.0L349.1,112.7L349.9,112.4L350.6,112.0L351.4,111.7L352.2,111.4L353.0,111.0L353.8,110.7L354.6,110.3L355.3,110.0L356.1,109.6L356.9,109.2L357.7,108.9L358.5,108.5L359.3,108.1L360.1,107.7L360.8,107.3L361.6,106.9L362.4,106.5L363.2,106.0L364.0,105.6L364.8,105.2L365.5,104.7L366.3,104.3L367.1,103.8L367.9,103.4L368.7,102.9L369.5,102.4L370.3,101.9L371.0,101.5L371.8,101.0L372.6,100.5L373.4,100.0L374.2,99.5L375.0,99.0L375.7,98.4L376.5,97.9L377.3,97.4L378.1,96.9L378.9,96.3L379.7,95.8L380.5,95.3L381.2,94.7L382.0,94.2L382.8,93.6L383.6,93.0L384.4,92.5L385.2,91.9L385.9,91.3L386.7,90.8L387.5,90.2L388.3,89.6L389.1,89.0L389.9,88.4L390.6,87.8L391.4,87.2L392.2,86.6L393.0,86.0L393.8,85.4L394.6,84.8L395.4,84.2L396.1,83.6L396.9,83.0L397.7,82.3L398.5,81.7L399.3,81.1L400.1,80.5L400.8,79.8L401.6,79.2L402.4,78.6L403.2,77.9L404.0,77.3L404.8,76.7L405.6,76.0L406.3,75.4L407.1,74.7L407.9,74.1L408.7,73.5L409.5,72.8L410.3,72.2L411.0,71.5L411.8,70.9L412.6,70.2L413.4,69.5L414.2,68.9L415.0,68.2L415.8,67.6L416.5,66.9L417.3,66.2L418.1,65.6L418.9,64.9L419.7,64.3L420.5,63.6L421.2,62.9L422.0,62.3L422.8,61.6L423.6,60.9L424.4,60.2L425.2,59.6L426.0,58.9L426.7,58.2L427.5,57.6L428.3,56.9L429.1,56.2L429.9,55.5L430.7,54.9L431.4,54.2L432.2,53.5L433.0,52.8L433.8,52.2L434.6,51.5L435.4,50.8L436.2,50.1L436.9,49.4L437.7,48.8L438.5,48.1L439.3,47.4L440.1,46.7L440.9,46.0L441.6,45.3L442.4,44.7L443.2,44.0L444.0,43.3L444.8,42.6L445.6,41.9L446.4,41.3L447.1,40.6L447.9,39.9L448.7,39.2L449.5,38.5L450.3,37.8L451.1,37.1L451.8,36.5L452.6,35.8L453.4,35.1L454.2,34.4L455.0,33.7L455.8,33.0L456.6,32.3L457.3,31.7L458.1,31.0L458.9,30.3L459.7,29.6L460.5,28.9L461.3,28.2L462.0,27.5L462.8,26.8L463.6,26.2L464.4,25.5L465.2,24.8L466.0,24.1L466.8,23.4L467.5,22.7L468.3,22.0L469.1,21.3L469.9,20.6L470.7,20.0L471.5,19.3L472.2,18.6L473.0,17.9L473.8,17.2L474.6,16.5" fill="none" stroke="#e13c14" stroke-width="1.3" stroke-dasharray="6.4,2.8" stroke-dashoffset="-1"/>
<path d="M98.0,177.7L98.8,177.7L99.6,177.7L100.4,177.7L101.1,177.7L101.9,177.7L102.7,177.7L103.5,177.7L104.3,177.7L105.1,177.7L105.8,177.7L106.6,177.7L107.4,177.7L108.2,177.7L109.0,177.7L109.8,177.7L110.6,177.7L111.3,177.7L112.1,177.7L112.9,177.7L113.7,177.7L114.5,177.7L115.3,177.7L116.0,177.7L116.8,177.7L117.6,177.7L118.4,177.7L119.2,177.7L120.0,177.7L120.8,177.7L121.5,177.7L122.3,177.7L123.1,177.7L123.9,177.7L124.7,177.7L125.5,177.7L126.2,177.7L127.0,177.7L127.8,177.7L128.6,177.7L129.4,177.7L130.2,177.7L131.0,177.7L131.7,177.7L132.5,177.7L133.3,177.7L134.1,177.7L134.9,177.7L135.7,177.7L136.4,177.7L137.2,177.7L138.0,177.7L138.8,177.7L139.6,177.7L140.4,177.7L141.2,177.7L141.9,177.7L142.7,177.7L143.5,177.7L144.3,177.7L145.1,177.7L145.9,177.7L146.6,177.7L147.4,177.7L148.2,177.7L149.0,177.7L149.8,177.7L150.6,177.7L151.4,177.7L152.1,177.7L152.9,177.7L153.7,177.7L154.5,177.7L155.3,177.7L156.1,177.7L156.8,177.7L157.6,177.7L158.4,177.7L159.2,177.7L160.0,177.7L160.8,177.7L161.6,177.7L162.3,177.7L163.1,177.7L163.9,177.7L164.7,177.7L165.5,177.7L166.3,177.7L167.0,177.7L167.8,177.7L168.6,177.7L169.4,177.7L170.2,177.7L171.0,177.7L171.8,177.7L172.5,177.7L173.3,177.7L174.1,177.7L174.9,177.7L175.7,177.7L176.5,177.7L177.2,177.7L178.0,177.7L178.8,177.7L179.6,177.7L180.4,177.7L181.2,177.7L182.0,177.7L182.7,177.7L183.5,177.7L184.3,177.7L185.1,177.7L185.9,177.7L186.7,177.7L187.4,177.7L188.2,177.8L189.0,177.8L189.8,177.8L190.6,177.8L191.4,177.8L192.2,177.8L192.9,177.8L193.7,177.8L194.5,177.8L195.3,177.8L196.1,177.8L196.9,177.8L197.6,177.8L198.4,177.8L199.2,177.8L200.0,177.8L200.8,177.8L201.6,177.8L202.3,177.8L203.1,177.8L203.9,177.8L204.7,177.8L205.5,177.8L206.3,177.8L207.1,177.8L207.8,177.8L208.6,177.8L209.4,177.8L210.2,177.8L211.0,177.8L211.8,177.8L212.5,177.8L213.3,177.8L214.1,177.8L214.9,177.8L215.7,177.8L216.5,177.8L217.3,177.8L218.0,177.8L218.8,177.8L219.6,177.8L220.4,177.8L221.2,177.8L222.0,177.8L222.7,177.8L223.5,177.8L224.3,177.8L225.1,177.8L225.9,177.8L226.7,177.8L227.5,177.8L228.2,177.8L229.0,177.8L229.8,177.8L230.6,177.8L231.4,177.8L232.2,177.8L232.9,177.8L233.7,177.8L234.5,177.8L235.3,177.9L236.1,177.9L236.9,177.9L237.7,177.9L238.4,177.9L239.2,177.9L240.0,177.9L240.8,177.9L241.6,177.9L242.4,177.9L243.1,177.9L243.9,177.9L244.7,177.9L245.5,177.9L246.3,177.9L247.1,177.9L247.9,177.9L248.6,177.9L249.4,177.9L250.2,177.9L251.0,177.9L251.8,177.9L252.6,177.9L253.3,177.9L254.1,177.9L254.9,177.9L255.7,177.9L256.5,177.9L257.3,177.9L258.1,177.9L258.8,177.9L259.6,177.9L260.4,177.9L261.2,177.9L262.0,177.9L262.8,177.9L263.5,177.9L264.3,177.9L265.1,177.9L265.9,177.9L266.7,177.9L267.5,177.9L268.3,177.9L269.0,177.9L269.8,177.9L270.6,177.9L271.4,177.8L272.2,177.8L273.0,177.8L273.7,177.8L274.5,177.8L275.3,177.8L276.1,177.8L276.9,177.8L277.7,177.8L278.5,177.8L279.2,177.8L280.0,177.8L280.8,177.8L281.6,177.7L282.4,177.7L283.2,177.7L283.9,177.7L284.7,177.7L285.5,177.7L286.3,177.7L287.1,177.6L287.9,177.6L288.7,177.6L289.4,177.6L290.2,177.6L291.0,177.5L291.8,177.5L292.6,177.5L293.4,177.5L294.1,177.4L294.9,177.4L295.7,177.4L296.5,177.3L297.3,177.3L298.1,177.3L298.9,177.2L299.6,177.2L300.4,177.2L301.2,177.1L302.0,177.1L302.8,177.1L303.6,177.0L304.3,177.0L305.1,177.0L305.9,176.9L306.7,176.9L307.5,176.8L308.3,176.8L309.1,176.7L309.8,176.7L310.6,176.6L311.4,176.5L312.2,176.5L313.0,176.4L313.8,176.3L314.5,176.2L315.3,176.2L316.1,176.1L316.9,176.0L317.7,175.9L318.5,175.8L319.3,175.7L320.0,175.6L320.8,175.5L321.6,175.4L322.4,175.3L323.2,175.2L324.0,175.1L324.7,174.9L325.5,174.8L326.3,174.7L327.1,174.5L327.9,174.4L328.7,174.2L329.5,174.1L330.2,173.9L331.0,173.8L331.8,173.6L332.6,173.4L333.4,173.2L334.2,173.0L334.9,172.8L335.7,172.6L336.5,172.4L337.3,172.2L338.1,172.0L338.9,171.8L339.7,171.5L340.4,171.3L341.2,171.1L342.0,170.8L342.8,170.5L343.6,170.3L344.4,170.0L345.1,169.7L345.9,169.4L346.7,169.1L347.5,168.8L348.3,168.5L349.1,168.2L349.9,167.9L350.6,167.6L351.4,167.3L352.2,166.9L353.0,166.6L353.8,166.2L354.6,165.8L355.3,165.5L356.1,165.1L356.9,164.7L357.7,164.3L358.5,163.9L359.3,163.5L360.1,163.1L360.8,162.7L361.6,162.3L362.4,161.9L363.2,161.4L364.0,161.0L364.8,160.6L365.5,160.1L366.3,159.6L367.1,159.2L367.9,158.7L368.7,158.2L369.5,157.8L370.3,157.3L371.0,156.8L371.8,156.3L372.6,155.8L373.4,155.3L374.2,154.7L375.0,154.2L375.7,153.7L376.5,153.1L377.3,152.6L378.1,152.0L378.9,151.5L379.7,150.9L380.5,150.4L381.2,149.8L382.0,149.3L382.8,148.7L383.6,148.1L384.4,147.5L385.2,146.9L385.9,146.4L386.7,145.8L387.5,145.2L388.3,144.6L389.1,144.0L389.9,143.4L390.6,142.8L391.4,142.2L392.2,141.6L393.0,141.0L393.8,140.3L394.6,139.7L395.4,139.1L396.1,138.5L396.9,137.8L397.7,137.2L398.5,136.6L399.3,136.0L400.1,135.3L400.8,134.7L401.6,134.0L402.4,133.4L403.2,132.8L404.0,132.1L404.8,131.5L405.6,130.8L406.3,130.2L407.1,129.5L407.9,128.9L408.7,128.2L409.5,127.6L410.3,126.9L411.0,126.3L411.8,125.6L412.6,124.9L413.4,124.3L414.2,123.6L415.0,123.0L415.8,122.3L416.5,121.6L417.3,121.0L418.1,120.3L418.9,119.6L419.7,119.0L420.5,118.3L421.2,117.6L422.0,117.0L422.8,116.3L423.6,115.6L424.4,114.9L425.2,114.3L426.0,113.6L426.7,112.9L427.5,112.2L428.3,111.6L429.1,110.9L429.9,110.2L430.7,109.5L431.4,108.9L432.2,108.2L433.0,107.5L433.8,106.8L434.6,106.1L435.4,105.5L436.2,104.8L436.9,104.1L437.7,103.4L438.5,102.7L439.3,102.1L440.1,101.4L440.9,100.7L441.6,100.0L442.4,99.3L443.2,98.6L444.0,98.0L444.8,97.3L445.6,96.6L446.4,95.9L447.1,95.2L447.9,94.5L448.7,93.8L449.5,93.2L450.3,92.5L451.1,91.8L451.8,91.1L452.6,90.4L453.4,89.7L454.2,89.0L455.0,88.4L455.8,87.7L456.6,87.0L457.3,86.3L458.1,85.6L458.9,84.9L459.7,84.2L460.5,83.5L461.3,82.8L462.0,82.2L462.8,81.5L463.6,80.8L464.4,80.1L465.2,79.4L466.0,78.7L466.8,78.0L467.5,77.3L468.3,76.7L469.1,76.0L469.9,75.3L470.7,74.6L471.5,73.9L472.2,73.2L473.0,72.5L473.8,71.8L474.6,71.1" fill="none" stroke="#e13c14" stroke-width="1.3" stroke-dasharray="6.4,2.8" stroke-dashoffset="-1"/>
<path d="M98.0,208.6L98.8,208.6L99.6,208.6L100.4,208.6L101.1,208.6L101.9,208.5L102.7,208.5L103.5,208.5L104.3,208.5L105.1,208.5L105.8,208.5L106.6,208.5L107.4,208.5L108.2,208.5L109.0,208.4L109.8,208.4L110.6,208.4L111.3,208.4L112.1,208.4L112.9,208.4L113.7,208.4L114.5,208.4L115.3,208.3L116.0,208.3L116.8,208.3L117.6,208.3L118.4,208.3L119.2,208.3L120.0,208.3L120.8,208.2L121.5,208.2L122.3,208.2L123.1,208.2L123.9,208.2L124.7,208.2L125.5,208.1L126.2,208.1L127.0,208.1L127.8,208.1L128.6,208.1L129.4,208.1L130.2,208.0L131.0,208.0L131.7,208.0L132.5,208.0L133.3,207.9L134.1,207.9L134.9,207.9L135.7,207.9L136.4,207.9L137.2,207.8L138.0,207.8L138.8,207.8L139.6,207.8L140.4,207.7L141.2,207.7L141.9,207.7L142.7,207.7L143.5,207.6L144.3,207.6L145.1,207.6L145.9,207.6L146.6,207.5L147.4,207.5L148.2,207.5L149.0,207.4L149.8,207.4L150.6,207.4L151.4,207.3L152.1,207.3L152.9,207.3L153.7,207.2L154.5,207.2L155.3,207.2L156.1,207.1L156.8,207.1L157.6,207.1L158.4,207.0L159.2,207.0L160.0,206.9L160.8,206.9L161.6,206.9L162.3,206.8L163.1,206.8L163.9,206.7L164.7,206.7L165.5,206.6L166.3,206.6L167.0,206.5L167.8,206.5L168.6,206.4L169.4,206.4L170.2,206.3L171.0,206.3L171.8,206.2L172.5,206.2L173.3,206.1L174.1,206.1L174.9,206.0L175.7,206.0L176.5,205.9L177.2,205.8L178.0,205.8L178.8,205.7L179.6,205.7L180.4,205.6L181.2,205.5L182.0,205.5L182.7,205.4L183.5,205.3L184.3,205.2L185.1,205.2L185.9,205.1L186.7,205.0L187.4,205.0L188.2,204.9L189.0,204.8L189.8,204.7L190.6,204.6L191.4,204.6L192.2,204.5L192.9,204.4L193.7,204.3L194.5,204.2L195.3,204.1L196.1,204.0L196.9,203.9L197.6,203.8L198.4,203.7L199.2,203.6L200.0,203.5L200.8,203.4L201.6,203.3L202.3,203.2L203.1,203.1L203.9,203.0L204.7,202.9L205.5,202.8L206.3,202.6L207.1,202.5L207.8,202.4L208.6,202.3L209.4,202.2L210.2,202.0L211.0,201.9L211.8,201.8L212.5,201.6L213.3,201.5L214.1,201.4L214.9,201.2L215.7,201.1L216.5,200.9L217.3,200.8L218.0,200.6L218.8,200.5L219.6,200.3L220.4,200.2L221.2,200.0L222.0,199.8L222.7,199.7L223.5,199.5L224.3,199.3L225.1,199.1L225.9,199.0L226.7,198.8L227.5,198.6L228.2,198.4L229.0,198.2L229.8,198.0L230.6,197.8L231.4,197.6L232.2,197.4L232.9,197.2L233.7,197.0L234.5,196.8L235.3,196.6L236.1,196.3L236.9,196.1L237.7,195.9L238.4,195.7L239.2,195.4L240.0,195.2L240.8,194.9L241.6,194.7L242.4,194.4L243.1,194.2L243.9,193.9L244.7,193.7L245.5,193.4L246.3,193.1L247.1,192.9L247.9,192.6L248.6,192.3L249.4,192.0L250.2,191.7L251.0,191.4L251.8,191.1L252.6,190.8L253.3,190.5L254.1,190.2L254.9,189.9L255.7,189.6L256.5,189.2L257.3,188.9L258.1,188.6L258.8,188.2L259.6,187.9L260.4,187.5L261.2,187.2L262.0,186.8L262.8,186.5L263.5,186.1L264.3,185.7L265.1,185.4L265.9,185.0L266.7,184.6L267.5,184.2L268.3,183.8L269.0,183.4L269.8,183.0L270.6,182.6L271.4,182.2L272.2,181.8L273.0,181.4L273.7,180.9L274.5,180.5L275.3,180.1L276.1,179.6L276.9,179.2L277.7,178.7L278.5,178.3L279.2,177.8L280.0,177.4L280.8,176.9L281.6,176.4L282.4,176.0L283.2,175.5L283.9,175.0L284.7,174.5L285.5,174.0L286.3,173.5L287.1,173.0L287.9,172.5L288.7,172.0L289.4,171.5L290.2,171.0L291.0,170.5L291.8,170.0L292.6,169.4L293.4,168.9L294.1,168.4L294.9,167.8L295.7,167.3L296.5,166.8L297.3,166.2L298.1,165.7L298.9,165.1L299.6,164.6L300.4,164.0L301.2,163.4L302.0,162.9L302.8,162.3L303.6,161.7L304.3,161.2L305.1,160.6L305.9,160.0L306.7,159.4L307.5,158.8L308.3,158.2L309.1,157.6L309.8,157.0L310.6,156.5L311.4,155.9L312.2,155.3L313.0,154.6L313.8,154.0L314.5,153.4L315.3,152.8L316.1,152.2L316.9,151.6L317.7,151.0L318.5,150.4L319.3,149.7L320.0,149.1L320.8,148.5L321.6,147.9L322.4,147.2L323.2,146.6L324.0,146.0L324.7,145.4L325.5,144.7L326.3,144.1L327.1,143.4L327.9,142.8L328.7,142.2L329.5,141.5L330.2,140.9L331.0,140.2L331.8,139.6L332.6,138.9L333.4,138.3L334.2,137.6L334.9,137.0L335.7,136.3L336.5,135.7L337.3,135.0L338.1,134.4L338.9,133.7L339.7,133.1L340.4,132.4L341.2,131.7L342.0,131.1L342.8,130.4L343.6,129.8L344.4,129.1L345.1,128.4L345.9,127.8L346.7,127.1L347.5,126.4L348.3,125.8L349.1,125.1L349.9,124.4L350.6,123.8L351.4,123.1L352.2,122.4L353.0,121.8L353.8,121.1L354.6,120.4L355.3,119.7L356.1,119.1L356.9,118.4L357.7,117.7L358.5,117.0L359.3,116.4L360.1,115.7L360.8,115.0L361.6,114.3L362.4,113.7L363.2,113.0L364.0,112.3L364.8,111.6L365.5,111.0L366.3,110.3L367.1,109.6L367.9,108.9L368.7,108.2L369.5,107.5L370.3,106.9L371.0,106.2L371.8,105.5L372.6,104.8L373.4,104.1L374.2,103.5L375.0,102.8L375.7,102.1L376.5,101.4L377.3,100.7L378.1,100.0L378.9,99.4L379.7,98.7L380.5,98.0L381.2,97.3L382.0,96.6L382.8,95.9L383.6,95.2L384.4,94.6L385.2,93.9L385.9,93.2L386.7,92.5L387.5,91.8L388.3,91.1L389.1,90.4L389.9,89.7L390.6,89.1L391.4,88.4L392.2,87.7L393.0,87.0L393.8,86.3L394.6,85.6L395.4,84.9L396.1,84.2L396.9,83.6L397.7,82.9L398.5,82.2L399.3,81.5L400.1,80.8L400.8,80.1L401.6,79.4L402.4,78.7L403.2,78.0L404.0,77.4L404.8,76.7L405.6,76.0L406.3,75.3L407.1,74.6L407.9,73.9L408.7,73.2L409.5,72.5L410.3,71.8L411.0,71.2L411.8,70.5L412.6,69.8L413.4,69.1L414.2,68.4L415.0,67.7L415.8,67.0L416.5,66.3L417.3,65.6L418.1,64.9L418.9,64.3L419.7,63.6L420.5,62.9L421.2,62.2L422.0,61.5L422.8,60.8L423.6,60.1L424.4,59.4L425.2,58.7L426.0,58.0L426.7,57.3L427.5,56.7L428.3,56.0L429.1,55.3L429.9,54.6L430.7,53.9L431.4,53.2L432.2,52.5L433.0,51.8L433.8,51.1L434.6,50.4L435.4,49.8L436.2,49.1L436.9,48.4L437.7,47.7L438.5,47.0L439.3,46.3L440.1,45.6L440.9,44.9L441.6,44.2L442.4,43.5L443.2,42.8L444.0,42.2L444.8,41.5L445.6,40.8L446.4,40.1L447.1,39.4L447.9,38.7L448.7,38.0L449.5,37.3L450.3,36.6L451.1,35.9L451.8,35.2L452.6,34.5L453.4,33.9L454.2,33.2L455.0,32.5L455.8,31.8L456.6,31.1L457.3,30.4L458.1,29.7L458.9,29.0L459.7,28.3L460.5,27.6L461.3,26.9L462.0,26.3L462.8,25.6L463.6,24.9L464.4,24.2L465.2,23.5L466.0,22.8L466.8,22.1L467.5,21.4L468.3,20.7L469.1,20.0L469.9,19.3L470.7,18.7L471.5,18.0L472.2,17.3L473.0,16.6L473.8,15.9L474.6,15.2" fill="none" stroke="#141ee1" stroke-width="1.6" stroke-dasharray="6.1,2.7" stroke-dashoffset="2"/>
<path d="M98.0,269.4L98.8,269.4L99.6,269.5L100.4,269.5L101.1,269.6L101.9,269.7L102.7,269.7L103.5,269.8L104.3,269.9L105.1,269.9L105.8,270.0L106.6,270.1L107.4,270.1L108.2,270.2L109.0,270.3L109.8,270.4L110.6,270.4L111.3,270.5L112.1,270.6L112.9,270.7L113.7,270.8L114.5,270.9L115.3,270.9L116.0,271.0L116.8,271.1L117.6,271.2L118.4,271.3L119.2,271.4L120.0,271.5L120.8,271.6L121.5,271.7L122.3,271.8L123.1,271.9L123.9,272.1L124.7,272.2L125.5,272.3L126.2,272.4L127.0,272.5L127.8,272.7L128.6,272.8L129.4,272.9L130.2,273.0L131.0,273.2L131.7,273.3L132.5,273.5L133.3,273.6L134.1,273.8L134.9,273.9L135.7,274.1L136.4,274.2L137.2,274.4L138.0,274.6L138.8,274.7L139.6,274.9L140.4,275.1L141.2,275.3L141.9,275.5L142.7,275.7L143.5,275.9L144.3,276.1L145.1,276.3L145.9,276.5L146.6,276.7L147.4,277.0L148.2,277.2L149.0,277.4L149.8,277.7L150.6,277.9L151.4,278.2L152.1,278.4L152.9,278.7L153.7,279.0L154.5,279.3L155.3,279.6L156.1,279.9L156.8,280.2L157.6,280.5L158.4,280.8L159.2,281.2L160.0,281.5L160.8,281.9L161.6,282.3L162.3,282.6L163.1,283.0L163.9,283.4L164.7,283.8L165.5,284.3L166.3,284.7L167.0,285.2L167.8,285.6L168.6,286.1L169.4,286.6L170.2,287.1L171.0,287.7L171.8,288.2L172.5,288.8L173.3,289.4L174.1,290.0L174.9,290.6L175.7,291.3L176.5,292.0L177.2,292.7L178.0,293.4L178.8,294.2L179.6,295.0L180.4,295.8L181.2,296.7L182.0,297.6L182.7,298.5L183.5,299.5L184.3,300.6L185.1,301.7L185.9,302.8L186.7,304.0L187.4,305.3L188.2,306.6L189.0,308.1L189.8,309.6L190.6,311.2L191.4,312.9L192.2,314.7L192.9,316.7L193.7,318.8L194.5,321.1L195.3,323.6L196.1,326.3L196.9,329.4L197.6,332.7L198.4,336.5L199.2,340.8L200.0,345.8L200.8,351.7L201.6,358.8 M290.2,346.6L291.0,328.4L291.8,316.2L292.6,307.0L293.4,299.6L294.1,293.4L294.9,288.1L295.7,283.4L296.5,279.1L297.3,275.3L298.1,271.8L298.9,268.6L299.6,265.6L300.4,262.8L301.2,260.2L302.0,257.7L302.8,255.4L303.6,253.1L304.3,251.0L305.1,249.0L305.9,247.0L306.7,245.1L307.5,243.3L308.3,241.6L309.1,239.9L309.8,238.3L310.6,236.7L311.4,235.1L312.2,233.6L313.0,232.2L313.8,230.8L314.5,229.4L315.3,228.0L316.1,226.7L316.9,225.4L317.7,224.1L318.5,222.9L319.3,221.7L320.0,220.5L320.8,219.3L321.6,218.2L322.4,217.0L323.2,215.9L324.0,214.8L324.7,213.7L325.5,212.6L326.3,211.6L327.1,210.6L327.9,209.5L328.7,208.5L329.5,207.5L330.2,206.5L331.0,205.5L331.8,204.6L332.6,203.6L333.4,202.7L334.2,201.7L334.9,200.8L335.7,199.9L336.5,199.0L337.3,198.0L338.1,197.2L338.9,196.3L339.7,195.4L340.4,194.5L341.2,193.6L342.0,192.8L342.8,191.9L343.6,191.1L344.4,190.2L345.1,189.4L345.9,188.5L346.7,187.7L347.5,186.9L348.3,186.1L349.1,185.2L349.9,184.4L350.6,183.6L351.4,182.8L352.2,182.0L353.0,181.2L353.8,180.4L354.6,179.6L355.3,178.8L356.1,178.1L356.9,177.3L357.7,176.5L358.5,175.7L359.3,175.0L360.1,174.2L360.8,173.4L361.6,172.7L362.4,171.9L363.2,171.1L364.0,170.4L364.8,169.6L365.5,168.9L366.3,168.1L367.1,167.4L367.9,166.6L368.7,165.9L369.5,165.2L370.3,164.4L371.0,163.7L371.8,162.9L372.6,162.2L373.4,161.5L374.2,160.7L375.0,160.0L375.7,159.3L376.5,158.6L377.3,157.8L378.1,157.1L378.9,156.4L379.7,155.7L380.5,154.9L381.2,154.2L382.0,153.5L382.8,152.8L383.6,152.1L384.4,151.3L385.2,150.6L385.9,149.9L386.7,149.2L387.5,148.5L388.3,147.8L389.1,147.1L389.9,146.3L390.6,145.6L391.4,144.9L392.2,144.2L393.0,143.5L393.8,142.8L394.6,142.1L395.4,141.4L396.1,140.7L396.9,140.0L397.7,139.3L398.5,138.6L399.3,137.9L400.1,137.2L400.8,136.5L401.6,135.8L402.4,135.1L403.2,134.4L404.0,133.6L404.8,132.9L405.6,132.2L406.3,131.5L407.1,130.8L407.9,130.1L408.7,129.4L409.5,128.8L410.3,128.1L411.0,127.4L411.8,126.7L412.6,126.0L413.4,125.3L414.2,124.6L415.0,123.9L415.8,123.2L416.5,122.5L417.3,121.8L418.1,121.1L418.9,120.4L419.7,119.7L420.5,119.0L421.2,118.3L422.0,117.6L422.8,116.9L423.6,116.2L424.4,115.5L425.2,114.8L426.0,114.1L426.7,113.4L427.5,112.7L428.3,112.0L429.1,111.3L429.9,110.7L430.7,110.0L431.4,109.3L432.2,108.6L433.0,107.9L433.8,107.2L434.6,106.5L435.4,105.8L436.2,105.1L436.9,104.4L437.7,103.7L438.5,103.0L439.3,102.3L440.1,101.6L440.9,100.9L441.6,100.3L442.4,99.6L443.2,98.9L444.0,98.2L444.8,97.5L445.6,96.8L446.4,96.1L447.1,95.4L447.9,94.7L448.7,94.0L449.5,93.3L450.3,92.6L451.1,91.9L451.8,91.2L452.6,90.6L453.4,89.9L454.2,89.2L455.0,88.5L455.8,87.8L456.6,87.1L457.3,86.4L458.1,85.7L458.9,85.0L459.7,84.3L460.5,83.6L461.3,82.9L462.0,82.3L462.8,81.6L463.6,80.9L464.4,80.2L465.2,79.5L466.0,78.8L466.8,78.1L467.5,77.4L468.3,76.7L469.1,76.0L469.9,75.3L470.7,74.6L471.5,74.0L472.2,73.3L473.0,72.6L473.8,71.9L474.6,71.2" fill="none" stroke="#141ee1" stroke-width="1.6" stroke-dasharray="6.1,2.7" stroke-dashoffset="2"/>
</g>
<path d="M98.0,347.0v-7.2M98.0,347.0h8.6M474.6,347.0h-8.6M126.3,347.0v-3.4M98.0,322.0h4.2M474.6,322.0h-4.2M142.9,347.0v-3.4M98.0,307.4h4.2M474.6,307.4h-4.2M154.7,347.0v-3.4M98.0,297.1h4.2M474.6,297.1h-4.2M163.8,347.0v-3.4M98.0,289.0h4.2M474.6,289.0h-4.2M171.3,347.0v-3.4M98.0,282.5h4.2M474.6,282.5h-4.2M177.6,347.0v-3.4M98.0,276.9h4.2M474.6,276.9h-4.2M183.0,347.0v-3.4M98.0,272.1h4.2M474.6,272.1h-4.2M187.8,347.0v-3.4M98.0,267.8h4.2M474.6,267.8h-4.2M192.2,347.0v-7.2M98.0,264.1h8.6M474.6,264.1h-8.6M220.5,347.0v-3.4M98.0,239.1h4.2M474.6,239.1h-4.2M237.1,347.0v-3.4M98.0,224.5h4.2M474.6,224.5h-4.2M248.8,347.0v-3.4M98.0,214.1h4.2M474.6,214.1h-4.2M258.0,347.0v-3.4M98.0,206.1h4.2M474.6,206.1h-4.2M265.4,347.0v-3.4M98.0,199.5h4.2M474.6,199.5h-4.2M271.7,347.0v-3.4M98.0,193.9h4.2M474.6,193.9h-4.2M277.2,347.0v-3.4M98.0,189.1h4.2M474.6,189.1h-4.2M282.0,347.0v-3.4M98.0,184.9h4.2M474.6,184.9h-4.2M286.3,347.0v-7.2M98.0,181.1h8.6M474.6,181.1h-8.6M314.6,347.0v-3.4M98.0,156.1h4.2M474.6,156.1h-4.2M331.2,347.0v-3.4M98.0,141.5h4.2M474.6,141.5h-4.2M343.0,347.0v-3.4M98.0,131.2h4.2M474.6,131.2h-4.2M352.1,347.0v-3.4M98.0,123.1h4.2M474.6,123.1h-4.2M359.6,347.0v-3.4M98.0,116.6h4.2M474.6,116.6h-4.2M365.9,347.0v-3.4M98.0,111.0h4.2M474.6,111.0h-4.2M371.3,347.0v-3.4M371.3,15.2v3.4M98.0,106.2h4.2M474.6,106.2h-4.2M376.1,347.0v-3.4M376.1,15.2v3.4M98.0,101.9h4.2M474.6,101.9h-4.2M380.5,347.0v-7.2M380.5,15.2v7.2M98.0,98.1h8.6M474.6,98.1h-8.6M408.8,347.0v-3.4M408.8,15.2v3.4M474.6,73.2h-4.2M425.4,347.0v-3.4M425.4,15.2v3.4M474.6,58.6h-4.2M437.1,347.0v-3.4M437.1,15.2v3.4M474.6,48.2h-4.2M446.3,347.0v-3.4M446.3,15.2v3.4M474.6,40.2h-4.2M453.7,347.0v-3.4M453.7,15.2v3.4M474.6,33.6h-4.2M460.0,347.0v-3.4M460.0,15.2v3.4M474.6,28.0h-4.2M465.5,347.0v-3.4M465.5,15.2v3.4M474.6,23.2h-4.2M470.3,347.0v-3.4M470.3,15.2v3.4M474.6,19.0h-4.2M474.6,347.0v-7.2M474.6,15.2v7.2M474.6,15.2h-8.6" stroke="#080808" stroke-width="1.0" fill="none"/>
<rect x="370.5" y="15.2" width="104.1" height="331.8" fill="#cdcdcd" fill-opacity="0.6"/>
<rect x="98.0" y="15.2" width="376.6" height="76.3" fill="#000" fill-opacity="0.13"/>
<rect x="370.5" y="15.2" width="104.1" height="76.3" fill="#000" fill-opacity="0.035"/>
<path d="M98.0,15.2v7.2M126.3,15.2v3.4M142.9,15.2v3.4M154.7,15.2v3.4M163.8,15.2v3.4M171.3,15.2v3.4M177.6,15.2v3.4M183.0,15.2v3.4M187.8,15.2v3.4M192.2,15.2v7.2M220.5,15.2v3.4M237.1,15.2v3.4M248.8,15.2v3.4M258.0,15.2v3.4M265.4,15.2v3.4M271.7,15.2v3.4M277.2,15.2v3.4M282.0,15.2v3.4M286.3,15.2v7.2M314.6,15.2v3.4M331.2,15.2v3.4M343.0,15.2v3.4M352.1,15.2v3.4M359.6,15.2v3.4M365.9,15.2v3.4M98.0,73.2h4.2M98.0,58.6h4.2M98.0,48.2h4.2M98.0,40.2h4.2M98.0,33.6h4.2M98.0,28.0h4.2M98.0,23.2h4.2M98.0,19.0h4.2M98.0,15.2h8.6" stroke="#585858" stroke-width="0.9" fill="none"/>
<path d="M98.0,91.5H474.6 M370.5,15.2V347.0" stroke="#000" stroke-width="1.55" fill="none"/>
<rect x="98.0" y="15.2" width="376.6" height="331.8" fill="none" stroke="#101010" stroke-width="1.4"/>
<text transform="translate(59.9,21.6) scale(1.09,1)" font-size="16.0">10</text><text transform="translate(78.7,16.2) scale(1.12,1)" font-size="11.9">0</text>
<text transform="translate(59.8,103.5) scale(1.09,1)" font-size="16.0">10</text><path d="M79.2,95.4h9.4" stroke="#111" stroke-width="0.85" fill="none"/><text transform="translate(89.6,98.1) scale(1.08,1)" font-size="11.9">1</text>
<text transform="translate(58.8,187.3) scale(1.09,1)" font-size="16.0">10</text><path d="M78.2,179.2h9.4" stroke="#111" stroke-width="0.85" fill="none"/><text transform="translate(88.6,181.9) scale(1.08,1)" font-size="11.9">2</text>
<text transform="translate(59.0,271.1) scale(1.09,1)" font-size="16.0">10</text><path d="M78.4,263.0h9.4" stroke="#111" stroke-width="0.85" fill="none"/><text transform="translate(88.8,265.7) scale(1.08,1)" font-size="11.9">3</text>
<text transform="translate(59.1,355.6) scale(1.09,1)" font-size="16.0">10</text><path d="M78.5,347.5h9.4" stroke="#111" stroke-width="0.85" fill="none"/><text transform="translate(88.9,350.2) scale(1.08,1)" font-size="11.9">4</text>
<text transform="translate(85.5,365.4) scale(1.09,1)" font-size="16.0">10</text><path d="M104.9,357.3h9.4" stroke="#111" stroke-width="0.85" fill="none"/><text transform="translate(115.3,360.0) scale(1.08,1)" font-size="11.9">4</text>
<text transform="translate(177.4,365.0) scale(1.09,1)" font-size="16.0">10</text><path d="M196.8,356.9h9.4" stroke="#111" stroke-width="0.85" fill="none"/><text transform="translate(207.2,359.6) scale(1.08,1)" font-size="11.9">3</text>
<text transform="translate(273.0,365.0) scale(1.09,1)" font-size="16.0">10</text><path d="M292.4,356.9h9.4" stroke="#111" stroke-width="0.85" fill="none"/><text transform="translate(302.8,359.6) scale(1.08,1)" font-size="11.9">2</text>
<text transform="translate(368.6,365.5) scale(1.09,1)" font-size="16.0">10</text><path d="M388.0,357.4h9.4" stroke="#111" stroke-width="0.85" fill="none"/><text transform="translate(398.4,360.1) scale(1.08,1)" font-size="11.9">1</text>
<text transform="translate(461.0,365.6) scale(1.09,1)" font-size="16.0">10</text><text transform="translate(479.8,360.2) scale(1.12,1)" font-size="11.9">0</text>
<!-- region titles -->
<text x="136.3" y="56.1" font-size="19.2" class="b" textLength="139.2" lengthAdjust="spacingAndGlyphs">Disfavoured by</text>
<text x="283.9" y="56.1" font-size="19.2" textLength="43.5" lengthAdjust="spacingAndGlyphs">0<tspan class="i">νββ</tspan></text>
<text transform="translate(441.2,336) rotate(-90)" font-size="19.2" class="b" textLength="219.8" lengthAdjust="spacingAndGlyphs">Disfavoured by Cosmology</text>
<!-- curve labels -->
<g transform="translate(105.4,118.7)" font-size="13.0" stroke="#0a0a0a" stroke-width="0.15">
<text x="0.0" textLength="71.6" lengthAdjust="spacing">IO:(<tspan class="i">ϕ</tspan><tspan class="b" font-size="9.4" dy="2.2">12</tspan><tspan dy="-2.2">, </tspan><tspan class="i">ϕ</tspan><tspan class="b" font-size="9.4" dy="2.2">13</tspan><tspan dy="-2.2">)</tspan></text>
<text x="74.9" textLength="9.1" lengthAdjust="spacing">=</text>
<text x="89.4" textLength="77.5" lengthAdjust="spacing">(<tspan class="b">0</tspan>,<tspan class="b">0</tspan>), (<tspan class="b">0</tspan>,<tspan class="i">π</tspan>/<tspan class="b">2</tspan>)</text>
</g>
<g transform="translate(102.2,166.7)" font-size="13.3" stroke="#0a0a0a" stroke-width="0.30">
<text x="0.0" textLength="66.8" lengthAdjust="spacing">IO:(<tspan class="i">ϕ</tspan><tspan class="b" font-size="9.6" dy="2.3">12</tspan><tspan dy="-2.3">, </tspan><tspan class="i">ϕ</tspan><tspan class="b" font-size="9.6" dy="2.3">13</tspan><tspan dy="-2.3">)</tspan></text>
<text x="71.1" textLength="9.0" lengthAdjust="spacing">=</text>
<text x="85.2" textLength="99.7" lengthAdjust="spacing">(<tspan class="i">π</tspan>/2,0), (<tspan class="i">π</tspan>/2,<tspan class="i">π</tspan>/2)</text>
</g>
<g transform="translate(106.5,204.2) rotate(-3.34)" font-size="12.1" stroke="#0a0a0a" stroke-width="0.15">
<text x="0.0" textLength="72.9" lengthAdjust="spacing">NO:(<tspan class="i">ϕ</tspan><tspan class="b" font-size="8.7" dy="2.1">12</tspan><tspan dy="-2.1">, </tspan><tspan class="i">ϕ</tspan><tspan class="b" font-size="8.7" dy="2.1">13</tspan><tspan dy="-2.1">)</tspan></text>
<text x="77.2" textLength="8.4" lengthAdjust="spacing">=</text>
<text x="88.5" textLength="28.3" lengthAdjust="spacing">(<tspan class="b">0</tspan>,<tspan class="b">0</tspan>)</text>
</g>
<g transform="translate(104.3,252.8) rotate(-9.8)" font-size="12.0" stroke="#0a0a0a" stroke-width="0.15">
<text x="0.0" textLength="67.0" lengthAdjust="spacing">NO:(<tspan class="i">ϕ</tspan><tspan class="b" font-size="8.6" dy="2.0">12</tspan><tspan dy="-2.0">, </tspan><tspan class="i">ϕ</tspan><tspan class="b" font-size="8.6" dy="2.0">13</tspan><tspan dy="-2.0">)</tspan></text>
<text x="69.9" textLength="9.1" lengthAdjust="spacing">=</text>
<text x="81.9" textLength="38.7" lengthAdjust="spacing">(<tspan class="b">0</tspan>,<tspan class="i">π</tspan>/<tspan class="b">2</tspan>)</text>
</g>
<text stroke="#0a0a0a" stroke-width="0.30" transform="matrix(0.7505,0.6609,-0.499,1.339,170.6,267.5)" font-size="10.6" textLength="107.5" lengthAdjust="spacing">NO:(<tspan class="i">ϕ</tspan><tspan class="b" font-size="7.6" dy="1.8">12</tspan><tspan dy="-1.8">, </tspan><tspan class="i">ϕ</tspan><tspan class="b" font-size="7.6" dy="1.8">13</tspan><tspan dy="-1.8">)</tspan> = (<tspan class="i">π</tspan>/<tspan class="b">2</tspan>,<tspan class="b">0</tspan>)</text>
<text stroke="#0a0a0a" stroke-width="0.30" transform="matrix(0.2215,-0.9752,1.862,0.178,278.7,338.5)" font-size="10.6" textLength="117.0" lengthAdjust="spacing">NO:(<tspan class="i">ϕ</tspan><tspan class="b" font-size="7.6" dy="1.8">12</tspan><tspan dy="-1.8">, </tspan><tspan class="i">ϕ</tspan><tspan class="b" font-size="7.6" dy="1.8">13</tspan><tspan dy="-1.8">)</tspan> = (<tspan class="i">π</tspan>/<tspan class="b">2</tspan>,<tspan class="i">π</tspan>/<tspan class="b">2</tspan>)</text>
<!-- axis labels -->
<text transform="translate(209.0,384.5) scale(1.2,1.1)" font-size="22.2" class="i">m</text>
<text transform="translate(225.5,389.0) scale(1.3,1.1)" font-size="15" class="i">ν</text>
<text transform="translate(238.6,391.0) scale(1,1.17)" font-size="17.3" class="b" textLength="54.4" lengthAdjust="spacingAndGlyphs">lightest</text>
<text transform="translate(300.4,386.1) scale(1,1.13)" font-size="20" textLength="37.4" lengthAdjust="spacingAndGlyphs">[eV]</text>
<g transform="translate(41.2,235) rotate(-90)">
<path d="M1.8,-17.1V4.8M47.8,-17.1V4.8" stroke="#111" stroke-width="1.0" fill="none"/>
<text transform="translate(4.4,0) scale(1.22,1.06)" font-size="22.2" class="i">m</text>
<text transform="translate(23.9,3.6) scale(1,1.06)" font-size="17.5" class="i" textLength="18.4" lengthAdjust="spacingAndGlyphs">ee</text>
<text transform="translate(56.4,0) scale(1,1.13)" font-size="20" textLength="39.0" lengthAdjust="spacingAndGlyphs">[eV]</text>
</g>

</svg>
</body></html>
